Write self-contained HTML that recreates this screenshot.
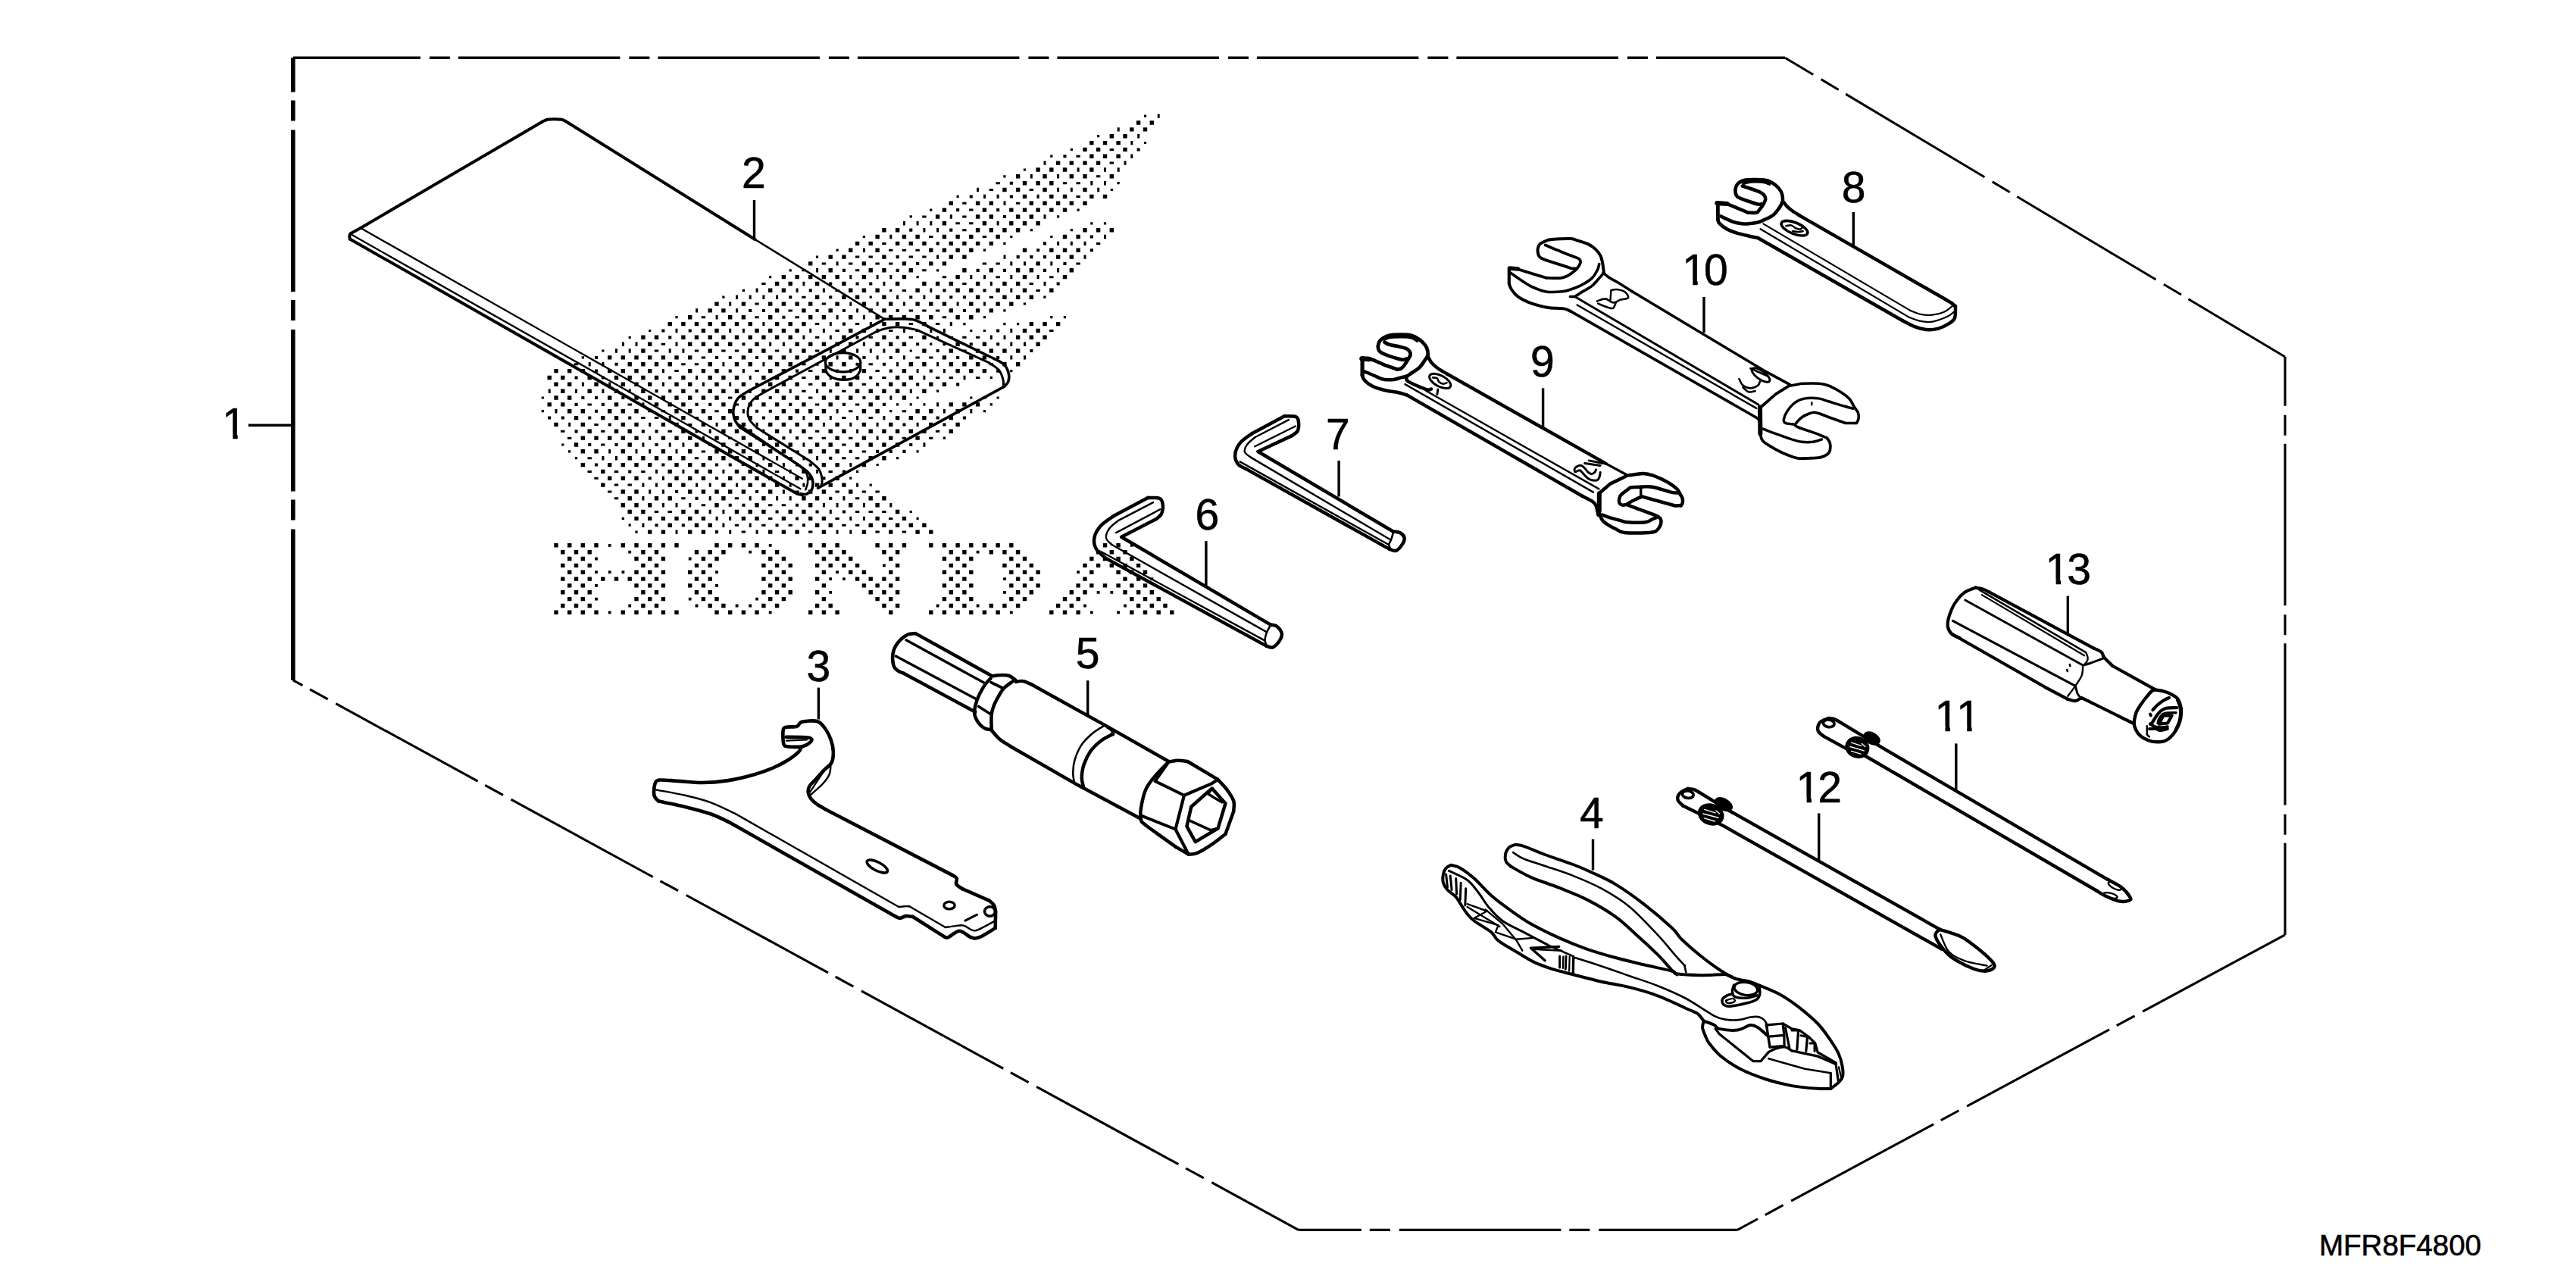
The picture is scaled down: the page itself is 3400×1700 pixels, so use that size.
<!DOCTYPE html>
<html><head><meta charset="utf-8"><title>Tools</title>
<style>
html,body{margin:0;padding:0;background:#fff}
svg{display:block}
.lb{font-family:"Liberation Sans",sans-serif;font-size:57px;fill:#000;stroke:#000;stroke-width:0.6px;font-kerning:none}
.wmt{font-family:"Liberation Serif",serif;font-weight:bold}
</style></head><body>
<svg width="3400" height="1700" viewBox="0 0 3400 1700">
<rect width="3400" height="1700" fill="#fff"/>
<path d="M1499.9 159.3h5.4v5.4h-5.4zM1509.9 151.5h3.2v3.2h-3.2zM1517.6 159.3h5.4v5.4h-5.4zM1527.7 150.4h3v5.4h-3zM1448 178.1h3.2v3.2h-3.2zM1464.6 177h5.4v5.4h-5.4zM1474.7 168.2h3v5.4h-3zM1482.3 177h5.4v5.4h-5.4zM1491.1 168.2h5.4v5.4h-5.4zM1501.2 177h3v5.4h-3zM1508.8 168.2h5.4v5.4h-5.4zM1412.7 195.8h3.2v3.2h-3.2zM1429.3 194.7h5.4v5.4h-5.4zM1438.1 185.9h5.4v5.4h-5.4zM1446.9 194.7h5.4v5.4h-5.4zM1455.8 185.9h5.4v5.4h-5.4zM1464.6 195.9h5.4v3h-5.4zM1473.4 185.9h5.4v5.4h-5.4zM1482.3 194.7h5.4v5.4h-5.4zM1492.3 185.9h3v5.4h-3zM1500.6 195.4h4.1v4.1h-4.1zM1509.9 186.9h3.2v3.2h-3.2zM1377.5 212.4h3v5.4h-3zM1386.2 204.6h3.2v3.2h-3.2zM1393.9 212.4h5.4v5.4h-5.4zM1403.4 204.2h4.1v4.1h-4.1zM1411.6 212.4h5.4v5.4h-5.4zM1420.4 204.8h5.4v3h-5.4zM1429.3 212.4h5.4v5.4h-5.4zM1438.1 203.6h5.4v5.4h-5.4zM1446.9 212.4h5.4v5.4h-5.4zM1455.8 203.6h5.4v5.4h-5.4zM1464.6 213.6h5.4v3h-5.4zM1473.4 203.6h5.4v5.4h-5.4zM1483.5 212.4h3v5.4h-3zM1492.3 203.6h3v5.4h-3zM1324.3 231.2h3.2v3.2h-3.2zM1340.9 230.1h5.4v5.4h-5.4zM1350.8 222.4h3.2v3.2h-3.2zM1359.8 230.1h3v5.4h-3zM1367.4 221.3h5.4v5.4h-5.4zM1376.3 230.1h5.4v5.4h-5.4zM1385.1 221.3h5.4v5.4h-5.4zM1395.1 230.1h3v5.4h-3zM1402.8 221.3h5.4v5.4h-5.4zM1411.6 230.1h5.4v5.4h-5.4zM1421.6 221.3h3v5.4h-3zM1429.3 230.1h5.4v5.4h-5.4zM1438.1 221.3h5.4v5.4h-5.4zM1446.9 231.3h5.4v3h-5.4zM1457 221.3h3v5.4h-3zM1464.6 230.1h5.4v5.4h-5.4zM1474.7 221.3h3v5.4h-3zM1289.1 247.8h3v5.4h-3zM1305.6 249.1h5.4v3h-5.4zM1314.4 240.2h5.4v3h-5.4zM1323.2 247.8h5.4v5.4h-5.4zM1332.8 239.7h4.1v4.1h-4.1zM1340.9 247.8h5.4v5.4h-5.4zM1349.8 239h5.4v5.4h-5.4zM1358.6 249.1h5.4v3h-5.4zM1367.4 239h5.4v5.4h-5.4zM1376.3 247.8h5.4v5.4h-5.4zM1385.1 239h5.4v5.4h-5.4zM1395.1 247.8h3v5.4h-3zM1402.8 240.2h5.4v3h-5.4zM1412.8 247.8h3v5.4h-3zM1420.4 240.2h5.4v3h-5.4zM1429.3 247.8h5.4v5.4h-5.4zM1439.3 239h3v5.4h-3zM1448.2 247.8h3v5.4h-3zM1457 239h3v5.4h-3zM1465.7 248.9h3.2v3.2h-3.2zM1474.5 240.1h3.2v3.2h-3.2zM1252.6 265.5h5.4v5.4h-5.4zM1262.5 257.8h3.2v3.2h-3.2zM1270.2 266.8h5.4v3h-5.4zM1279.7 257.4h4.1v4.1h-4.1zM1287.9 265.5h5.4v5.4h-5.4zM1298 256.7h3v5.4h-3zM1305.6 265.5h5.4v5.4h-5.4zM1315.6 256.7h3v5.4h-3zM1324.5 265.5h3v5.4h-3zM1332.8 257.4h4.1v4.1h-4.1zM1340.9 266.8h5.4v3h-5.4zM1349.8 256.7h5.4v5.4h-5.4zM1358.6 265.5h5.4v5.4h-5.4zM1368.6 256.7h3v5.4h-3zM1376.3 265.5h5.4v5.4h-5.4zM1385.1 256.7h5.4v5.4h-5.4zM1393.9 265.5h5.4v5.4h-5.4zM1402.8 256.7h5.4v5.4h-5.4zM1411.6 265.5h5.4v5.4h-5.4zM1420.4 257.9h5.4v3h-5.4zM1429.3 265.5h5.4v5.4h-5.4zM1438.1 256.7h5.4v5.4h-5.4zM1455.8 256.7h5.4v5.4h-5.4zM1200.6 284.3h3.2v3.2h-3.2zM1217.2 284.5h5.4v3h-5.4zM1227.1 275.5h3.2v3.2h-3.2zM1234.9 283.3h5.4v5.4h-5.4zM1243.7 274.4h5.4v5.4h-5.4zM1253.8 283.3h3v5.4h-3zM1262.1 275.1h4.1v4.1h-4.1zM1270.2 284.5h5.4v3h-5.4zM1279.1 275.6h5.4v3h-5.4zM1287.9 283.3h5.4v5.4h-5.4zM1296.7 274.4h5.4v5.4h-5.4zM1305.6 283.3h5.4v5.4h-5.4zM1315.1 275.1h4.1v4.1h-4.1zM1323.9 283.9h4.1v4.1h-4.1zM1332.1 274.4h5.4v5.4h-5.4zM1340.9 283.3h5.4v5.4h-5.4zM1349.8 274.4h5.4v5.4h-5.4zM1358.6 283.3h5.4v5.4h-5.4zM1367.4 274.4h5.4v5.4h-5.4zM1377.5 283.3h3v5.4h-3zM1385.1 274.4h5.4v5.4h-5.4zM1395 284.3h3.2v3.2h-3.2zM1402.8 274.4h5.4v5.4h-5.4zM1421.5 275.5h3.2v3.2h-3.2zM1164.2 301h5.4v5.4h-5.4zM1181.9 301h5.4v5.4h-5.4zM1191.9 292.1h3v5.4h-3zM1200.2 301.6h4.1v4.1h-4.1zM1209.6 292.1h3v5.4h-3zM1218.4 301h3v5.4h-3zM1227.3 292.1h3v5.4h-3zM1236.1 301h3v5.4h-3zM1243.7 292.1h5.4v5.4h-5.4zM1253.2 301.6h4.1v4.1h-4.1zM1261.4 293.3h5.4v3h-5.4zM1270.2 302.2h5.4v3h-5.4zM1279.1 293.3h5.4v3h-5.4zM1287.9 301h5.4v5.4h-5.4zM1296.7 292.1h5.4v5.4h-5.4zM1305.6 301h5.4v5.4h-5.4zM1315.6 292.1h3v5.4h-3zM1323.2 301h5.4v5.4h-5.4zM1332.1 292.1h5.4v5.4h-5.4zM1340.9 301h5.4v5.4h-5.4zM1349.8 292.1h5.4v5.4h-5.4zM1359.7 302h3.2v3.2h-3.2zM1367.4 292.1h5.4v5.4h-5.4zM1412.7 302h3.2v3.2h-3.2zM1429.3 301h5.4v5.4h-5.4zM1439.2 293.2h3.2v3.2h-3.2zM1446.9 301h5.4v5.4h-5.4zM1456.9 293.2h3.2v3.2h-3.2zM1464.6 301h5.4v5.4h-5.4zM1128.9 318.7h5.4v5.4h-5.4zM1138.8 310.9h3.2v3.2h-3.2zM1146.5 318.7h5.4v5.4h-5.4zM1155.4 309.8h5.4v5.4h-5.4zM1164.2 319.9h5.4v3h-5.4zM1174.3 309.8h3v5.4h-3zM1181.9 318.7h5.4v5.4h-5.4zM1190.7 309.8h5.4v5.4h-5.4zM1199.6 318.7h5.4v5.4h-5.4zM1208.4 309.8h5.4v5.4h-5.4zM1217.2 318.7h5.4v5.4h-5.4zM1226.1 311h5.4v3h-5.4zM1235.6 319.3h4.1v4.1h-4.1zM1243.7 309.8h5.4v5.4h-5.4zM1252.6 318.7h5.4v5.4h-5.4zM1261.4 309.8h5.4v5.4h-5.4zM1270.2 318.7h5.4v5.4h-5.4zM1279.1 309.8h5.4v5.4h-5.4zM1287.9 318.7h5.4v5.4h-5.4zM1296.7 311h5.4v3h-5.4zM1305.6 318.7h5.4v5.4h-5.4zM1314.4 309.8h5.4v5.4h-5.4zM1324.3 319.7h3.2v3.2h-3.2zM1333.2 310.9h3.2v3.2h-3.2zM1376.9 319.3h4.1v4.1h-4.1zM1386.2 310.9h3.2v3.2h-3.2zM1395.1 318.7h3v5.4h-3zM1402.8 309.8h5.4v5.4h-5.4zM1412.8 318.7h3v5.4h-3zM1420.4 309.8h5.4v5.4h-5.4zM1430.5 318.7h3v5.4h-3zM1438.8 310.5h4.1v4.1h-4.1zM1446.9 319.9h5.4v3h-5.4zM1457 309.8h3v5.4h-3zM1076.9 337.5h3.2v3.2h-3.2zM1093.5 336.4h5.4v5.4h-5.4zM1103.5 328.6h3.2v3.2h-3.2zM1111.2 336.4h5.4v5.4h-5.4zM1120 327.5h5.4v5.4h-5.4zM1128.9 337.6h5.4v3h-5.4zM1138.9 327.5h3v5.4h-3zM1146.5 337.6h5.4v3h-5.4zM1155.4 327.5h5.4v5.4h-5.4zM1164.2 336.4h5.4v5.4h-5.4zM1173 328.7h5.4v3h-5.4zM1182.6 337.1h4.1v4.1h-4.1zM1190.7 328.7h5.4v3h-5.4zM1199.6 337.6h5.4v3h-5.4zM1208.4 328.7h5.4v3h-5.4zM1217.2 337.6h5.4v3h-5.4zM1226.1 327.5h5.4v5.4h-5.4zM1236.1 336.4h3v5.4h-3zM1243.7 327.5h5.4v5.4h-5.4zM1252.6 336.4h5.4v5.4h-5.4zM1261.4 327.5h5.4v5.4h-5.4zM1270.2 336.4h5.4v5.4h-5.4zM1279.1 327.5h5.4v5.4h-5.4zM1297.8 328.6h3.2v3.2h-3.2zM1324.5 336.4h3v5.4h-3zM1341.6 337.1h4.1v4.1h-4.1zM1349.8 327.5h5.4v5.4h-5.4zM1359.3 337.1h4.1v4.1h-4.1zM1368.1 328.2h4.1v4.1h-4.1zM1376.9 337.1h4.1v4.1h-4.1zM1385.1 327.5h5.4v5.4h-5.4zM1393.9 336.4h5.4v5.4h-5.4zM1402.8 327.5h5.4v5.4h-5.4zM1411.6 336.4h5.4v5.4h-5.4zM1420.4 327.5h5.4v5.4h-5.4zM1430.5 336.4h3v5.4h-3zM1438.8 328.2h4.1v4.1h-4.1zM1041.6 355.2h3.2v3.2h-3.2zM1058.2 355.3h5.4v3h-5.4zM1067 345.2h5.4v5.4h-5.4zM1077.1 354.1h3v5.4h-3zM1084.7 346.4h5.4v3h-5.4zM1093.5 354.1h5.4v5.4h-5.4zM1103.6 345.2h3v5.4h-3zM1111.9 354.8h4.1v4.1h-4.1zM1120 346.4h5.4v3h-5.4zM1128.9 355.3h5.4v3h-5.4zM1137.7 345.2h5.4v5.4h-5.4zM1146.5 354.1h5.4v5.4h-5.4zM1155.4 346.4h5.4v3h-5.4zM1164.2 354.1h5.4v5.4h-5.4zM1173 346.4h5.4v3h-5.4zM1182.6 354.8h4.1v4.1h-4.1zM1190.7 345.2h5.4v5.4h-5.4zM1199.6 354.1h5.4v5.4h-5.4zM1209.1 345.9h4.1v4.1h-4.1zM1217.2 355.3h5.4v3h-5.4zM1226.1 345.2h5.4v5.4h-5.4zM1236 355.2h3.2v3.2h-3.2zM1243.7 345.2h5.4v5.4h-5.4zM1270.2 354.1h5.4v5.4h-5.4zM1288.6 354.8h4.1v4.1h-4.1zM1296.7 346.4h5.4v3h-5.4zM1305.6 354.1h5.4v5.4h-5.4zM1314.4 346.4h5.4v3h-5.4zM1323.9 354.8h4.1v4.1h-4.1zM1333.3 345.2h3v5.4h-3zM1340.9 354.1h5.4v5.4h-5.4zM1351 345.2h3v5.4h-3zM1358.6 354.1h5.4v5.4h-5.4zM1367.4 345.2h5.4v5.4h-5.4zM1376.9 354.8h4.1v4.1h-4.1zM1386.3 345.2h3v5.4h-3zM1395.1 354.1h3v5.4h-3zM1403.4 345.9h4.1v4.1h-4.1zM1411.6 354.1h5.4v5.4h-5.4zM1420.4 346.4h5.4v3h-5.4zM1005.2 373h5.4v3h-5.4zM1015.1 364h3.2v3.2h-3.2zM1022.9 371.8h5.4v5.4h-5.4zM1031.7 362.9h5.4v5.4h-5.4zM1040.5 371.8h5.4v5.4h-5.4zM1049.4 362.9h5.4v5.4h-5.4zM1059.4 371.8h3v5.4h-3zM1067 362.9h5.4v5.4h-5.4zM1075.9 371.8h5.4v5.4h-5.4zM1084.7 362.9h5.4v5.4h-5.4zM1094.2 372.5h4.1v4.1h-4.1zM1102.4 362.9h5.4v5.4h-5.4zM1111.2 371.8h5.4v5.4h-5.4zM1121.3 362.9h3v5.4h-3zM1129.5 372.5h4.1v4.1h-4.1zM1137.7 362.9h5.4v5.4h-5.4zM1147.2 372.5h4.1v4.1h-4.1zM1156.6 362.9h3v5.4h-3zM1165.4 371.8h3v5.4h-3zM1174.3 362.9h3v5.4h-3zM1181.9 371.8h5.4v5.4h-5.4zM1190.7 362.9h5.4v5.4h-5.4zM1209.5 364h3.2v3.2h-3.2zM1217.2 371.8h5.4v5.4h-5.4zM1234.9 371.8h5.4v5.4h-5.4zM1243.7 364.2h5.4v3h-5.4zM1252.6 371.8h5.4v5.4h-5.4zM1261.4 362.9h5.4v5.4h-5.4zM1270.2 373h5.4v3h-5.4zM1280.3 362.9h3v5.4h-3zM1287.9 371.8h5.4v5.4h-5.4zM1298 362.9h3v5.4h-3zM1306.8 371.8h3v5.4h-3zM1314.4 364.2h5.4v3h-5.4zM1323.2 371.8h5.4v5.4h-5.4zM1333.3 362.9h3v5.4h-3zM1340.9 371.8h5.4v5.4h-5.4zM1349.8 362.9h5.4v5.4h-5.4zM1358.6 373h5.4v3h-5.4zM1368.6 362.9h3v5.4h-3zM1377.5 371.8h3v5.4h-3zM1385.1 364.2h5.4v3h-5.4zM1394.6 372.5h4.1v4.1h-4.1zM1402.8 362.9h5.4v5.4h-5.4zM953.3 390.6h3.2v3.2h-3.2zM971.1 389.5h3v5.4h-3zM979.8 381.7h3.2v3.2h-3.2zM988.7 389.5h3v5.4h-3zM997.6 380.6h3v5.4h-3zM1006.4 389.5h3v5.4h-3zM1014 380.6h5.4v5.4h-5.4zM1024.1 389.5h3v5.4h-3zM1031.7 380.6h5.4v5.4h-5.4zM1041.2 390.2h4.1v4.1h-4.1zM1050.6 380.6h3v5.4h-3zM1058.2 390.7h5.4v3h-5.4zM1067.7 381.3h4.1v4.1h-4.1zM1075.9 389.5h5.4v5.4h-5.4zM1085.9 380.6h3v5.4h-3zM1094.2 390.2h4.1v4.1h-4.1zM1102.4 381.9h5.4v3h-5.4zM1111.2 389.5h5.4v5.4h-5.4zM1120 380.6h5.4v5.4h-5.4zM1128.9 389.5h5.4v5.4h-5.4zM1137.7 380.6h5.4v5.4h-5.4zM1147.6 390.6h3.2v3.2h-3.2zM1155.4 380.6h5.4v5.4h-5.4zM1164.2 389.5h5.4v5.4h-5.4zM1174.1 381.7h3.2v3.2h-3.2zM1183.1 389.5h3v5.4h-3zM1190.7 381.9h5.4v3h-5.4zM1200.2 390.2h4.1v4.1h-4.1zM1208.4 380.6h5.4v5.4h-5.4zM1218.4 389.5h3v5.4h-3zM1227.3 380.6h3v5.4h-3zM1234.9 389.5h5.4v5.4h-5.4zM1244.4 381.3h4.1v4.1h-4.1zM1253.2 390.2h4.1v4.1h-4.1zM1261.4 380.6h5.4v5.4h-5.4zM1270.9 390.2h4.1v4.1h-4.1zM1279.1 380.6h5.4v5.4h-5.4zM1287.9 389.5h5.4v5.4h-5.4zM1297.4 381.3h4.1v4.1h-4.1zM1305.6 390.7h5.4v3h-5.4zM1314.4 380.6h5.4v5.4h-5.4zM1323.2 389.5h5.4v5.4h-5.4zM1333.3 380.6h3v5.4h-3zM1340.9 389.5h5.4v5.4h-5.4zM1349.8 380.6h5.4v5.4h-5.4zM1358.6 389.5h5.4v5.4h-5.4zM1367.4 381.9h5.4v3h-5.4zM1377.3 390.6h3.2v3.2h-3.2zM1385.1 380.6h5.4v5.4h-5.4zM918.1 407.2h3v5.4h-3zM934.5 407.2h5.4v5.4h-5.4zM943.3 398.4h5.4v5.4h-5.4zM952.2 407.2h5.4v5.4h-5.4zM962.2 398.4h3v5.4h-3zM971.1 407.2h3v5.4h-3zM978.7 398.4h5.4v5.4h-5.4zM988.2 407.9h4.1v4.1h-4.1zM996.3 399.6h5.4v3h-5.4zM1005.9 407.9h4.1v4.1h-4.1zM1014 398.4h5.4v5.4h-5.4zM1022.9 407.2h5.4v5.4h-5.4zM1031.7 398.4h5.4v5.4h-5.4zM1040.5 408.4h5.4v3h-5.4zM1049.4 398.4h5.4v5.4h-5.4zM1058.2 407.2h5.4v5.4h-5.4zM1067 398.4h5.4v5.4h-5.4zM1076.5 407.9h4.1v4.1h-4.1zM1084.7 399.6h5.4v3h-5.4zM1093.5 407.2h5.4v5.4h-5.4zM1102.4 398.4h5.4v5.4h-5.4zM1111.9 407.9h4.1v4.1h-4.1zM1121.3 398.4h3v5.4h-3zM1130.1 407.2h3v5.4h-3zM1137.7 398.4h5.4v5.4h-5.4zM1146.5 407.2h5.4v5.4h-5.4zM1156.6 398.4h3v5.4h-3zM1164.2 407.2h5.4v5.4h-5.4zM1173 398.4h5.4v5.4h-5.4zM1182.6 407.9h4.1v4.1h-4.1zM1191.9 398.4h3v5.4h-3zM1199.6 408.4h5.4v3h-5.4zM1208.4 398.4h5.4v5.4h-5.4zM1217.2 408.4h5.4v3h-5.4zM1226.1 398.4h5.4v5.4h-5.4zM1234.9 408.4h5.4v3h-5.4zM1243.7 398.4h5.4v5.4h-5.4zM1252.6 407.2h5.4v5.4h-5.4zM1262.6 398.4h3v5.4h-3zM1270.9 407.9h4.1v4.1h-4.1zM1279.1 398.4h5.4v5.4h-5.4zM1287.9 407.2h5.4v5.4h-5.4zM1298 398.4h3v5.4h-3zM1305.6 407.2h5.4v5.4h-5.4zM1314.4 398.4h5.4v5.4h-5.4zM1324.3 408.3h3.2v3.2h-3.2zM1332.1 398.4h5.4v5.4h-5.4zM1350.8 399.4h3.2v3.2h-3.2zM881.5 424.9h5.4v5.4h-5.4zM891.4 417.1h3.2v3.2h-3.2zM899.2 424.9h5.4v5.4h-5.4zM908 416.1h5.4v5.4h-5.4zM916.8 424.9h5.4v5.4h-5.4zM925.7 417.3h5.4v3h-5.4zM934.5 424.9h5.4v5.4h-5.4zM944.6 416.1h3v5.4h-3zM952.2 424.9h5.4v5.4h-5.4zM961 416.1h5.4v5.4h-5.4zM969.8 424.9h5.4v5.4h-5.4zM978.7 416.1h5.4v5.4h-5.4zM987.5 424.9h5.4v5.4h-5.4zM996.3 417.3h5.4v3h-5.4zM1006.4 424.9h3v5.4h-3zM1014 416.1h5.4v5.4h-5.4zM1022.9 424.9h5.4v5.4h-5.4zM1032.4 416.7h4.1v4.1h-4.1zM1040.5 424.9h5.4v5.4h-5.4zM1049.4 417.3h5.4v3h-5.4zM1058.2 424.9h5.4v5.4h-5.4zM1067 416.1h5.4v5.4h-5.4zM1075.9 426.1h5.4v3h-5.4zM1084.7 416.1h5.4v5.4h-5.4zM1094.8 424.9h3v5.4h-3zM1103.6 416.1h3v5.4h-3zM1111.9 425.6h4.1v4.1h-4.1zM1120 416.1h5.4v5.4h-5.4zM1128.9 426.1h5.4v3h-5.4zM1138.9 416.1h3v5.4h-3zM1147.8 424.9h3v5.4h-3zM1155.4 416.1h5.4v5.4h-5.4zM1164.2 424.9h5.4v5.4h-5.4zM1173 416.1h5.4v5.4h-5.4zM1181.9 424.9h5.4v5.4h-5.4zM1190.7 416.1h5.4v5.4h-5.4zM1199.6 426.1h5.4v3h-5.4zM1208.4 416.1h5.4v5.4h-5.4zM1217.2 424.9h5.4v5.4h-5.4zM1226.1 416.1h5.4v5.4h-5.4zM1234.9 426.1h5.4v3h-5.4zM1243.7 417.3h5.4v3h-5.4zM1253.8 424.9h3v5.4h-3zM1261.4 416.1h5.4v5.4h-5.4zM1271.3 426h3.2v3.2h-3.2zM1279.1 416.1h5.4v5.4h-5.4zM1297.8 417.1h3.2v3.2h-3.2zM1324.3 426h3.2v3.2h-3.2zM1342 426h3.2v3.2h-3.2zM1358.6 424.9h5.4v5.4h-5.4zM1376.3 424.9h5.4v5.4h-5.4zM1386.2 417.1h3.2v3.2h-3.2zM1393.9 424.9h5.4v5.4h-5.4zM1403.8 417.1h3.2v3.2h-3.2zM829.6 443.7h3.2v3.2h-3.2zM846.2 442.6h5.4v5.4h-5.4zM856.1 434.9h3.2v3.2h-3.2zM863.8 442.6h5.4v5.4h-5.4zM873.3 434.4h4.1v4.1h-4.1zM882.2 443.3h4.1v4.1h-4.1zM891.5 433.8h3v5.4h-3zM899.2 442.6h5.4v5.4h-5.4zM908.7 434.4h4.1v4.1h-4.1zM916.8 442.6h5.4v5.4h-5.4zM925.7 433.8h5.4v5.4h-5.4zM934.5 442.6h5.4v5.4h-5.4zM943.3 433.8h5.4v5.4h-5.4zM952.2 442.6h5.4v5.4h-5.4zM962.2 433.8h3v5.4h-3zM969.8 442.6h5.4v5.4h-5.4zM979.9 433.8h3v5.4h-3zM987.5 442.6h5.4v5.4h-5.4zM996.3 433.8h5.4v5.4h-5.4zM1005.2 442.6h5.4v5.4h-5.4zM1014 433.8h5.4v5.4h-5.4zM1022.9 442.6h5.4v5.4h-5.4zM1031.7 433.8h5.4v5.4h-5.4zM1040.5 442.6h5.4v5.4h-5.4zM1049.4 433.8h5.4v5.4h-5.4zM1059.4 442.6h3v5.4h-3zM1068.2 433.8h3v5.4h-3zM1075.9 443.8h5.4v3h-5.4zM1085.9 433.8h3v5.4h-3zM1094.8 442.6h3v5.4h-3zM1102.4 435h5.4v3h-5.4zM1111.2 442.6h5.4v5.4h-5.4zM1120 433.8h5.4v5.4h-5.4zM1129.5 443.3h4.1v4.1h-4.1zM1137.7 433.8h5.4v5.4h-5.4zM1146.5 443.8h5.4v3h-5.4zM1156.6 433.8h3v5.4h-3zM1164.2 442.6h5.4v5.4h-5.4zM1173 435h5.4v3h-5.4zM1182.6 443.3h4.1v4.1h-4.1zM1191.9 433.8h3v5.4h-3zM1199.6 443.8h5.4v3h-5.4zM1208.4 435h5.4v3h-5.4zM1217.2 442.6h5.4v5.4h-5.4zM1227.3 433.8h3v5.4h-3zM1236 443.7h3.2v3.2h-3.2zM1244.9 433.8h3v5.4h-3zM1252.6 443.8h5.4v3h-5.4zM1270.2 443.8h5.4v3h-5.4zM1280.2 434.9h3.2v3.2h-3.2zM1287.9 443.8h5.4v3h-5.4zM1297.8 434.9h3.2v3.2h-3.2zM1306.8 442.6h3v5.4h-3zM1315.1 434.4h4.1v4.1h-4.1zM1324.5 442.6h3v5.4h-3zM1333.3 433.8h3v5.4h-3zM1340.9 442.6h5.4v5.4h-5.4zM1349.8 433.8h5.4v5.4h-5.4zM1358.6 442.6h5.4v5.4h-5.4zM1367.4 433.8h5.4v5.4h-5.4zM1376.3 442.6h5.4v5.4h-5.4zM1385.1 435h5.4v3h-5.4zM794.2 461.4h3.2v3.2h-3.2zM812 460.3h3v5.4h-3zM820.9 451.5h3v5.4h-3zM829.7 460.3h3v5.4h-3zM838.5 451.5h3v5.4h-3zM846.2 460.3h5.4v5.4h-5.4zM855 451.5h5.4v5.4h-5.4zM863.8 461.5h5.4v3h-5.4zM872.7 452.7h5.4v3h-5.4zM882.7 460.3h3v5.4h-3zM891.5 451.5h3v5.4h-3zM900.4 460.3h3v5.4h-3zM908 451.5h5.4v5.4h-5.4zM916.8 461.5h5.4v3h-5.4zM925.7 451.5h5.4v5.4h-5.4zM934.5 460.3h5.4v5.4h-5.4zM943.3 451.5h5.4v5.4h-5.4zM952.2 461.5h5.4v3h-5.4zM961 451.5h5.4v5.4h-5.4zM969.8 461.5h5.4v3h-5.4zM979.4 452.2h4.1v4.1h-4.1zM987.5 460.3h5.4v5.4h-5.4zM996.3 451.5h5.4v5.4h-5.4zM1005.2 460.3h5.4v5.4h-5.4zM1015.2 451.5h3v5.4h-3zM1022.9 461.5h5.4v3h-5.4zM1032.9 451.5h3v5.4h-3zM1041.7 460.3h3v5.4h-3zM1049.4 451.5h5.4v5.4h-5.4zM1058.2 460.3h5.4v5.4h-5.4zM1067 451.5h5.4v5.4h-5.4zM1075.9 461.5h5.4v3h-5.4zM1084.7 451.5h5.4v5.4h-5.4zM1094.8 460.3h3v5.4h-3zM1102.4 451.5h5.4v5.4h-5.4zM1111.2 460.3h5.4v5.4h-5.4zM1120 451.5h5.4v5.4h-5.4zM1130.1 460.3h3v5.4h-3zM1138.9 451.5h3v5.4h-3zM1147.8 460.3h3v5.4h-3zM1155.4 451.5h5.4v5.4h-5.4zM1165.4 460.3h3v5.4h-3zM1173 451.5h5.4v5.4h-5.4zM1181.9 460.3h5.4v5.4h-5.4zM1190.7 451.5h5.4v5.4h-5.4zM1200.6 461.4h3.2v3.2h-3.2zM1209.1 452.2h4.1v4.1h-4.1zM1217.2 460.3h5.4v5.4h-5.4zM1227.1 452.6h3.2v3.2h-3.2zM1235.6 461h4.1v4.1h-4.1zM1244.4 452.2h4.1v4.1h-4.1zM1252.6 460.3h5.4v5.4h-5.4zM1261.4 451.5h5.4v5.4h-5.4zM1270.2 461.5h5.4v3h-5.4zM1279.7 452.2h4.1v4.1h-4.1zM1287.9 460.3h5.4v5.4h-5.4zM1296.7 451.5h5.4v5.4h-5.4zM1305.6 460.3h5.4v5.4h-5.4zM1315.1 452.2h4.1v4.1h-4.1zM1323.2 460.3h5.4v5.4h-5.4zM1333.3 451.5h3v5.4h-3zM1340.9 460.3h5.4v5.4h-5.4zM1351 451.5h3v5.4h-3zM1359.3 461h4.1v4.1h-4.1zM1367.4 451.5h5.4v5.4h-5.4zM757.8 479.3h5.4v3h-5.4zM767.7 470.3h3.2v3.2h-3.2zM776.7 478h3v5.4h-3zM785 469.9h4.1v4.1h-4.1zM794.4 478h3v5.4h-3zM802 469.2h5.4v5.4h-5.4zM811.5 478.7h4.1v4.1h-4.1zM819.6 469.2h5.4v5.4h-5.4zM828.5 478h5.4v5.4h-5.4zM837.3 469.2h5.4v5.4h-5.4zM846.2 478h5.4v5.4h-5.4zM855 469.2h5.4v5.4h-5.4zM863.8 478h5.4v5.4h-5.4zM872.7 469.2h5.4v5.4h-5.4zM881.5 478h5.4v5.4h-5.4zM890.3 469.2h5.4v5.4h-5.4zM899.2 479.3h5.4v3h-5.4zM908 469.2h5.4v5.4h-5.4zM916.8 479.3h5.4v3h-5.4zM925.7 470.4h5.4v3h-5.4zM934.5 478h5.4v5.4h-5.4zM944 469.9h4.1v4.1h-4.1zM953.4 478h3v5.4h-3zM961.7 469.9h4.1v4.1h-4.1zM969.8 478h5.4v5.4h-5.4zM978.7 469.2h5.4v5.4h-5.4zM987.5 478h5.4v5.4h-5.4zM997 469.9h4.1v4.1h-4.1zM1006.4 478h3v5.4h-3zM1014 469.2h5.4v5.4h-5.4zM1022.9 478h5.4v5.4h-5.4zM1031.7 469.2h5.4v5.4h-5.4zM1040.5 478h5.4v5.4h-5.4zM1049.4 469.2h5.4v5.4h-5.4zM1058.2 479.3h5.4v3h-5.4zM1067 469.2h5.4v5.4h-5.4zM1076.5 478.7h4.1v4.1h-4.1zM1084.7 469.2h5.4v5.4h-5.4zM1093.5 478h5.4v5.4h-5.4zM1103.6 469.2h3v5.4h-3zM1111.2 478h5.4v5.4h-5.4zM1120 469.2h5.4v5.4h-5.4zM1129.5 478.7h4.1v4.1h-4.1zM1138.4 469.9h4.1v4.1h-4.1zM1146.5 479.3h5.4v3h-5.4zM1156.6 469.2h3v5.4h-3zM1164.9 478.7h4.1v4.1h-4.1zM1173.7 469.9h4.1v4.1h-4.1zM1183.1 478h3v5.4h-3zM1191.9 469.2h3v5.4h-3zM1199.6 478h5.4v5.4h-5.4zM1208.4 470.4h5.4v3h-5.4zM1217.2 478h5.4v5.4h-5.4zM1226.1 470.4h5.4v3h-5.4zM1236.1 478h3v5.4h-3zM1243.7 469.2h5.4v5.4h-5.4zM1252.6 478h5.4v5.4h-5.4zM1262.1 469.9h4.1v4.1h-4.1zM1270.2 478h5.4v5.4h-5.4zM1279.1 469.2h5.4v5.4h-5.4zM1287.9 478h5.4v5.4h-5.4zM1296.7 469.2h5.4v5.4h-5.4zM1305.6 479.3h5.4v3h-5.4zM1315.1 469.9h4.1v4.1h-4.1zM1323.2 478h5.4v5.4h-5.4zM1333.3 469.2h3v5.4h-3zM1340.9 478h5.4v5.4h-5.4zM1351 469.2h3v5.4h-3zM722.5 495.8h5.4v5.4h-5.4zM731.3 486.9h5.4v5.4h-5.4zM740.1 495.8h5.4v5.4h-5.4zM749 486.9h5.4v5.4h-5.4zM758.5 496.4h4.1v4.1h-4.1zM766.6 486.9h5.4v5.4h-5.4zM775.5 495.8h5.4v5.4h-5.4zM785 487.6h4.1v4.1h-4.1zM793.8 496.4h4.1v4.1h-4.1zM802 486.9h5.4v5.4h-5.4zM810.8 495.8h5.4v5.4h-5.4zM819.6 486.9h5.4v5.4h-5.4zM828.5 495.8h5.4v5.4h-5.4zM837.3 486.9h5.4v5.4h-5.4zM846.2 495.8h5.4v5.4h-5.4zM855 486.9h5.4v5.4h-5.4zM863.8 495.8h5.4v5.4h-5.4zM873.9 486.9h3v5.4h-3zM882.2 496.4h4.1v4.1h-4.1zM890.3 488.1h5.4v3h-5.4zM899.2 495.8h5.4v5.4h-5.4zM908 486.9h5.4v5.4h-5.4zM918.1 495.8h3v5.4h-3zM925.7 486.9h5.4v5.4h-5.4zM934.5 495.8h5.4v5.4h-5.4zM943.3 486.9h5.4v5.4h-5.4zM952.2 495.8h5.4v5.4h-5.4zM961.7 487.6h4.1v4.1h-4.1zM969.8 495.8h5.4v5.4h-5.4zM979.9 486.9h3v5.4h-3zM988.7 495.8h3v5.4h-3zM996.3 488.1h5.4v3h-5.4zM1005.2 495.8h5.4v5.4h-5.4zM1014 486.9h5.4v5.4h-5.4zM1022.9 495.8h5.4v5.4h-5.4zM1031.7 486.9h5.4v5.4h-5.4zM1040.5 495.8h5.4v5.4h-5.4zM1050 487.6h4.1v4.1h-4.1zM1058.2 497h5.4v3h-5.4zM1067 488.1h5.4v3h-5.4zM1075.9 495.8h5.4v5.4h-5.4zM1084.7 486.9h5.4v5.4h-5.4zM1094.8 495.8h3v5.4h-3zM1103 487.6h4.1v4.1h-4.1zM1111.2 495.8h5.4v5.4h-5.4zM1121.3 486.9h3v5.4h-3zM1128.9 495.8h5.4v5.4h-5.4zM1137.7 486.9h5.4v5.4h-5.4zM1147.2 496.4h4.1v4.1h-4.1zM1155.4 488.1h5.4v3h-5.4zM1164.2 497h5.4v3h-5.4zM1173.7 487.6h4.1v4.1h-4.1zM1181.9 495.8h5.4v5.4h-5.4zM1190.7 486.9h5.4v5.4h-5.4zM1199.6 495.8h5.4v5.4h-5.4zM1209.6 486.9h3v5.4h-3zM1218.4 495.8h3v5.4h-3zM1226.7 487.6h4.1v4.1h-4.1zM1234.9 497h5.4v3h-5.4zM1244.9 486.9h3v5.4h-3zM1252.6 497h5.4v3h-5.4zM1261.4 486.9h5.4v5.4h-5.4zM1271.5 495.8h3v5.4h-3zM1279.1 486.9h5.4v5.4h-5.4zM1287.9 497h5.4v3h-5.4zM1296.7 486.9h5.4v5.4h-5.4zM1306.7 496.8h3.2v3.2h-3.2zM1315.1 487.6h4.1v4.1h-4.1zM1333.2 488h3.2v3.2h-3.2zM723.7 513.5h3v5.4h-3zM731.3 504.6h5.4v5.4h-5.4zM740.1 513.5h5.4v5.4h-5.4zM749 504.6h5.4v5.4h-5.4zM759 513.5h3v5.4h-3zM767.9 504.6h3v5.4h-3zM775.5 513.5h5.4v5.4h-5.4zM784.3 504.6h5.4v5.4h-5.4zM794.4 513.5h3v5.4h-3zM803.2 504.6h3v5.4h-3zM810.8 513.5h5.4v5.4h-5.4zM819.6 504.6h5.4v5.4h-5.4zM829.7 513.5h3v5.4h-3zM837.3 504.6h5.4v5.4h-5.4zM846.2 513.5h5.4v5.4h-5.4zM855 504.6h5.4v5.4h-5.4zM864.5 514.1h4.1v4.1h-4.1zM873.9 504.6h3v5.4h-3zM882.2 514.1h4.1v4.1h-4.1zM890.3 504.6h5.4v5.4h-5.4zM899.2 513.5h5.4v5.4h-5.4zM908 504.6h5.4v5.4h-5.4zM917.5 514.1h4.1v4.1h-4.1zM926.9 504.6h3v5.4h-3zM934.5 513.5h5.4v5.4h-5.4zM943.3 504.6h5.4v5.4h-5.4zM952.2 513.5h5.4v5.4h-5.4zM962.2 504.6h3v5.4h-3zM969.8 513.5h5.4v5.4h-5.4zM978.7 504.6h5.4v5.4h-5.4zM988.7 513.5h3v5.4h-3zM997 505.3h4.1v4.1h-4.1zM1005.2 513.5h5.4v5.4h-5.4zM1014 504.6h5.4v5.4h-5.4zM1022.9 513.5h5.4v5.4h-5.4zM1031.7 504.6h5.4v5.4h-5.4zM1041.7 513.5h3v5.4h-3zM1049.4 504.6h5.4v5.4h-5.4zM1058.2 514.7h5.4v3h-5.4zM1067 505.8h5.4v3h-5.4zM1077.1 513.5h3v5.4h-3zM1084.7 504.6h5.4v5.4h-5.4zM1094.2 514.1h4.1v4.1h-4.1zM1102.4 504.6h5.4v5.4h-5.4zM1111.2 514.7h5.4v3h-5.4zM1120 504.6h5.4v5.4h-5.4zM1128.9 513.5h5.4v5.4h-5.4zM1137.7 505.8h5.4v3h-5.4zM1146.5 513.5h5.4v5.4h-5.4zM1156.1 505.3h4.1v4.1h-4.1zM1164.2 513.5h5.4v5.4h-5.4zM1173 504.6h5.4v5.4h-5.4zM1181.9 513.5h5.4v5.4h-5.4zM1190.7 504.6h5.4v5.4h-5.4zM1200.8 513.5h3v5.4h-3zM1209.1 505.3h4.1v4.1h-4.1zM1217.2 513.5h5.4v5.4h-5.4zM1226.1 504.6h5.4v5.4h-5.4zM1236 514.5h3.2v3.2h-3.2zM1243.7 504.6h5.4v5.4h-5.4zM1262.1 505.3h4.1v4.1h-4.1zM714.7 523.4h3.2v3.2h-3.2zM722.5 531.2h5.4v5.4h-5.4zM731.3 522.3h5.4v5.4h-5.4zM740.1 531.2h5.4v5.4h-5.4zM749 522.3h5.4v5.4h-5.4zM758.5 531.8h4.1v4.1h-4.1zM767.3 523h4.1v4.1h-4.1zM775.5 532.4h5.4v3h-5.4zM785 523h4.1v4.1h-4.1zM793.8 531.8h4.1v4.1h-4.1zM802 522.3h5.4v5.4h-5.4zM810.8 531.2h5.4v5.4h-5.4zM820.3 523h4.1v4.1h-4.1zM828.5 532.4h5.4v3h-5.4zM837.3 522.3h5.4v5.4h-5.4zM847.4 531.2h3v5.4h-3zM855 522.3h5.4v5.4h-5.4zM863.8 531.2h5.4v5.4h-5.4zM872.7 522.3h5.4v5.4h-5.4zM881.5 531.2h5.4v5.4h-5.4zM890.3 522.3h5.4v5.4h-5.4zM899.2 531.2h5.4v5.4h-5.4zM908 522.3h5.4v5.4h-5.4zM917.5 531.8h4.1v4.1h-4.1zM925.7 522.3h5.4v5.4h-5.4zM935.2 531.8h4.1v4.1h-4.1zM943.3 522.3h5.4v5.4h-5.4zM952.2 531.2h5.4v5.4h-5.4zM961 523.5h5.4v3h-5.4zM969.8 532.4h5.4v3h-5.4zM978.7 522.3h5.4v5.4h-5.4zM987.5 531.2h5.4v5.4h-5.4zM996.3 522.3h5.4v5.4h-5.4zM1005.2 531.2h5.4v5.4h-5.4zM1014.7 523h4.1v4.1h-4.1zM1022.9 531.2h5.4v5.4h-5.4zM1031.7 522.3h5.4v5.4h-5.4zM1041.2 531.8h4.1v4.1h-4.1zM1049.4 522.3h5.4v5.4h-5.4zM1058.2 531.2h5.4v5.4h-5.4zM1067 523.5h5.4v3h-5.4zM1075.9 532.4h5.4v3h-5.4zM1084.7 522.3h5.4v5.4h-5.4zM1093.5 531.2h5.4v5.4h-5.4zM1102.4 522.3h5.4v5.4h-5.4zM1111.9 531.8h4.1v4.1h-4.1zM1120 522.3h5.4v5.4h-5.4zM1128.9 532.4h5.4v3h-5.4zM1138.4 523h4.1v4.1h-4.1zM1146.5 531.2h5.4v5.4h-5.4zM1155.4 522.3h5.4v5.4h-5.4zM1164.9 531.8h4.1v4.1h-4.1zM1174.3 522.3h3v5.4h-3zM1183 532.2h3.2v3.2h-3.2zM1190.7 522.3h5.4v5.4h-5.4zM1200.6 532.2h3.2v3.2h-3.2zM1209.5 523.4h3.2v3.2h-3.2zM1218.3 532.2h3.2v3.2h-3.2zM1236.1 531.2h3v5.4h-3zM1252.6 531.2h5.4v5.4h-5.4zM1270.2 531.2h5.4v5.4h-5.4zM1280.2 523.4h3.2v3.2h-3.2zM1287.9 531.2h5.4v5.4h-5.4zM1296.7 523.5h5.4v3h-5.4zM1306.7 532.2h3.2v3.2h-3.2zM1315.5 523.4h3.2v3.2h-3.2zM714.7 541.1h3.2v3.2h-3.2zM723.1 549.5h4.1v4.1h-4.1zM732.5 540h3v5.4h-3zM740.8 549.5h4.1v4.1h-4.1zM749 540h5.4v5.4h-5.4zM757.8 548.9h5.4v5.4h-5.4zM766.6 540h5.4v5.4h-5.4zM776.2 549.5h4.1v4.1h-4.1zM785 540.7h4.1v4.1h-4.1zM793.1 548.9h5.4v5.4h-5.4zM802 540h5.4v5.4h-5.4zM810.8 548.9h5.4v5.4h-5.4zM819.6 540h5.4v5.4h-5.4zM829.2 549.5h4.1v4.1h-4.1zM837.3 540h5.4v5.4h-5.4zM846.2 550.1h5.4v3h-5.4zM855 541.2h5.4v3h-5.4zM863.8 550.1h5.4v3h-5.4zM872.7 541.2h5.4v3h-5.4zM882.7 548.9h3v5.4h-3zM890.3 540h5.4v5.4h-5.4zM899.2 548.9h5.4v5.4h-5.4zM908 540h5.4v5.4h-5.4zM916.8 550.1h5.4v3h-5.4zM925.7 540h5.4v5.4h-5.4zM934.5 548.9h5.4v5.4h-5.4zM943.3 541.2h5.4v3h-5.4zM952.2 548.9h5.4v5.4h-5.4zM961 540h5.4v5.4h-5.4zM969.8 548.9h5.4v5.4h-5.4zM979.9 540h3v5.4h-3zM987.5 548.9h5.4v5.4h-5.4zM997 540.7h4.1v4.1h-4.1zM1005.9 549.5h4.1v4.1h-4.1zM1014.7 540.7h4.1v4.1h-4.1zM1022.9 548.9h5.4v5.4h-5.4zM1031.7 540h5.4v5.4h-5.4zM1040.5 548.9h5.4v5.4h-5.4zM1049.4 540h5.4v5.4h-5.4zM1059.4 548.9h3v5.4h-3zM1067 540h5.4v5.4h-5.4zM1075.9 548.9h5.4v5.4h-5.4zM1084.7 540h5.4v5.4h-5.4zM1094.8 548.9h3v5.4h-3zM1103.6 540h3v5.4h-3zM1111.2 550.1h5.4v3h-5.4zM1120 541.2h5.4v3h-5.4zM1130.1 548.9h3v5.4h-3zM1137.7 540h5.4v5.4h-5.4zM1146.5 550.1h5.4v3h-5.4zM1155.4 540h5.4v5.4h-5.4zM1165.4 548.9h3v5.4h-3zM1174.1 541.1h3.2v3.2h-3.2zM1181.9 548.9h5.4v5.4h-5.4zM1190.7 541.2h5.4v3h-5.4zM1199.6 548.9h5.4v5.4h-5.4zM1208.4 540h5.4v5.4h-5.4zM1217.2 548.9h5.4v5.4h-5.4zM1226.1 540h5.4v5.4h-5.4zM1235.6 549.5h4.1v4.1h-4.1zM1244.9 540h3v5.4h-3zM1252.6 548.9h5.4v5.4h-5.4zM1261.4 540h5.4v5.4h-5.4zM1270.9 549.5h4.1v4.1h-4.1zM1280.3 540h3v5.4h-3zM1297.8 541.1h3.2v3.2h-3.2zM731.3 557.7h5.4v5.4h-5.4zM740.1 567.8h5.4v3h-5.4zM750.2 557.7h3v5.4h-3zM758.5 567.3h4.1v4.1h-4.1zM766.6 557.7h5.4v5.4h-5.4zM775.5 566.6h5.4v5.4h-5.4zM784.3 558.9h5.4v3h-5.4zM793.1 567.8h5.4v3h-5.4zM802.7 558.4h4.1v4.1h-4.1zM810.8 566.6h5.4v5.4h-5.4zM819.6 557.7h5.4v5.4h-5.4zM828.5 566.6h5.4v5.4h-5.4zM837.3 557.7h5.4v5.4h-5.4zM846.8 567.3h4.1v4.1h-4.1zM856.2 557.7h3v5.4h-3zM864.5 567.3h4.1v4.1h-4.1zM872.7 557.7h5.4v5.4h-5.4zM881.5 567.8h5.4v3h-5.4zM890.3 557.7h5.4v5.4h-5.4zM899.2 566.6h5.4v5.4h-5.4zM908 558.9h5.4v3h-5.4zM917.5 567.3h4.1v4.1h-4.1zM925.7 557.7h5.4v5.4h-5.4zM935.7 566.6h3v5.4h-3zM944.6 557.7h3v5.4h-3zM952.2 566.6h5.4v5.4h-5.4zM961 557.7h5.4v5.4h-5.4zM969.8 566.6h5.4v5.4h-5.4zM978.7 557.7h5.4v5.4h-5.4zM987.5 566.6h5.4v5.4h-5.4zM997.6 557.7h3v5.4h-3zM1006.4 566.6h3v5.4h-3zM1014 557.7h5.4v5.4h-5.4zM1022.9 566.6h5.4v5.4h-5.4zM1031.7 557.7h5.4v5.4h-5.4zM1041.7 566.6h3v5.4h-3zM1049.4 557.7h5.4v5.4h-5.4zM1058.2 566.6h5.4v5.4h-5.4zM1067 557.7h5.4v5.4h-5.4zM1075.9 567.8h5.4v3h-5.4zM1085.9 557.7h3v5.4h-3zM1093.5 566.6h5.4v5.4h-5.4zM1102.4 557.7h5.4v5.4h-5.4zM1111.2 566.6h5.4v5.4h-5.4zM1121.3 557.7h3v5.4h-3zM1130.1 566.6h3v5.4h-3zM1137.7 557.7h5.4v5.4h-5.4zM1146.5 566.6h5.4v5.4h-5.4zM1156.6 557.7h3v5.4h-3zM1164.2 566.6h5.4v5.4h-5.4zM1173 557.7h5.4v5.4h-5.4zM1181.9 566.6h5.4v5.4h-5.4zM1191.4 558.4h4.1v4.1h-4.1zM1199.6 566.6h5.4v5.4h-5.4zM1209.6 557.7h3v5.4h-3zM1217.2 566.6h5.4v5.4h-5.4zM1226.1 557.7h5.4v5.4h-5.4zM1234.9 567.8h5.4v3h-5.4zM1244.4 558.4h4.1v4.1h-4.1zM1252.6 566.6h5.4v5.4h-5.4zM1261.4 557.7h5.4v5.4h-5.4zM741.2 585.4h3.2v3.2h-3.2zM749 576.7h5.4v3h-5.4zM757.8 584.3h5.4v5.4h-5.4zM766.6 575.4h5.4v5.4h-5.4zM776.2 585h4.1v4.1h-4.1zM784.3 575.4h5.4v5.4h-5.4zM793.1 585.5h5.4v3h-5.4zM802 575.4h5.4v5.4h-5.4zM811.5 585h4.1v4.1h-4.1zM819.6 575.4h5.4v5.4h-5.4zM828.5 584.3h5.4v5.4h-5.4zM837.3 575.4h5.4v5.4h-5.4zM847.4 584.3h3v5.4h-3zM856.2 575.4h3v5.4h-3zM864.5 585h4.1v4.1h-4.1zM872.7 575.4h5.4v5.4h-5.4zM882.7 584.3h3v5.4h-3zM890.3 575.4h5.4v5.4h-5.4zM900.4 584.3h3v5.4h-3zM908 575.4h5.4v5.4h-5.4zM916.8 584.3h5.4v5.4h-5.4zM926.9 575.4h3v5.4h-3zM935.2 585h4.1v4.1h-4.1zM943.3 575.4h5.4v5.4h-5.4zM952.2 584.3h5.4v5.4h-5.4zM961 576.7h5.4v3h-5.4zM970.5 585h4.1v4.1h-4.1zM978.7 575.4h5.4v5.4h-5.4zM987.5 584.3h5.4v5.4h-5.4zM997 576.1h4.1v4.1h-4.1zM1005.9 585h4.1v4.1h-4.1zM1014 575.4h5.4v5.4h-5.4zM1022.9 584.3h5.4v5.4h-5.4zM1032.4 576.1h4.1v4.1h-4.1zM1040.5 584.3h5.4v5.4h-5.4zM1050 576.1h4.1v4.1h-4.1zM1059.4 584.3h3v5.4h-3zM1067 576.7h5.4v3h-5.4zM1075.9 584.3h5.4v5.4h-5.4zM1084.7 576.7h5.4v3h-5.4zM1093.5 584.3h5.4v5.4h-5.4zM1102.4 575.4h5.4v5.4h-5.4zM1111.2 585.5h5.4v3h-5.4zM1120 576.7h5.4v3h-5.4zM1128.9 584.3h5.4v5.4h-5.4zM1137.7 575.4h5.4v5.4h-5.4zM1146.5 584.3h5.4v5.4h-5.4zM1156.6 575.4h3v5.4h-3zM1164.2 584.3h5.4v5.4h-5.4zM1173 575.4h5.4v5.4h-5.4zM1181.9 584.3h5.4v5.4h-5.4zM1190.7 576.7h5.4v3h-5.4zM1200.2 585h4.1v4.1h-4.1zM1208.4 575.4h5.4v5.4h-5.4zM1218.4 584.3h3v5.4h-3zM1226.1 576.7h5.4v3h-5.4zM1244.8 576.5h3.2v3.2h-3.2zM750 594.2h3.2v3.2h-3.2zM758.9 603.1h3.2v3.2h-3.2zM766.6 593.1h5.4v5.4h-5.4zM775.5 603.2h5.4v3h-5.4zM784.3 593.1h5.4v5.4h-5.4zM794.4 602h3v5.4h-3zM803.2 593.1h3v5.4h-3zM812 602h3v5.4h-3zM819.6 593.1h5.4v5.4h-5.4zM828.5 602h5.4v5.4h-5.4zM838.5 593.1h3v5.4h-3zM846.2 602h5.4v5.4h-5.4zM856.2 593.1h3v5.4h-3zM863.8 602h5.4v5.4h-5.4zM872.7 593.1h5.4v5.4h-5.4zM881.5 602h5.4v5.4h-5.4zM891.5 593.1h3v5.4h-3zM899.2 602h5.4v5.4h-5.4zM908 593.1h5.4v5.4h-5.4zM916.8 603.2h5.4v3h-5.4zM925.7 594.4h5.4v3h-5.4zM934.5 602h5.4v5.4h-5.4zM943.3 593.1h5.4v5.4h-5.4zM952.2 602h5.4v5.4h-5.4zM961 593.1h5.4v5.4h-5.4zM969.8 602h5.4v5.4h-5.4zM978.7 593.1h5.4v5.4h-5.4zM987.5 602h5.4v5.4h-5.4zM996.3 593.1h5.4v5.4h-5.4zM1006.4 602h3v5.4h-3zM1014 593.1h5.4v5.4h-5.4zM1024.1 602h3v5.4h-3zM1031.7 593.1h5.4v5.4h-5.4zM1040.5 603.2h5.4v3h-5.4zM1049.4 594.4h5.4v3h-5.4zM1059.4 602h3v5.4h-3zM1067 593.1h5.4v5.4h-5.4zM1077.1 602h3v5.4h-3zM1084.7 593.1h5.4v5.4h-5.4zM1094.2 602.7h4.1v4.1h-4.1zM1102.4 593.1h5.4v5.4h-5.4zM1111.2 603.2h5.4v3h-5.4zM1120.7 593.8h4.1v4.1h-4.1zM1128.9 603.2h5.4v3h-5.4zM1137.7 594.4h5.4v3h-5.4zM1146.5 602h5.4v5.4h-5.4zM1156.1 593.8h4.1v4.1h-4.1zM1164.2 602h5.4v5.4h-5.4zM1173.7 593.8h4.1v4.1h-4.1zM1183 603.1h3.2v3.2h-3.2zM1191.4 593.8h4.1v4.1h-4.1zM1209.5 594.2h3.2v3.2h-3.2zM766.6 610.9h5.4v5.4h-5.4zM775.5 620.9h5.4v3h-5.4zM785 611.5h4.1v4.1h-4.1zM793.1 619.7h5.4v5.4h-5.4zM802 610.9h5.4v5.4h-5.4zM810.8 620.9h5.4v3h-5.4zM819.6 610.9h5.4v5.4h-5.4zM829.2 620.4h4.1v4.1h-4.1zM837.3 610.9h5.4v5.4h-5.4zM846.2 620.9h5.4v3h-5.4zM855 610.9h5.4v5.4h-5.4zM865 619.7h3v5.4h-3zM873.3 611.5h4.1v4.1h-4.1zM881.5 619.7h5.4v5.4h-5.4zM890.3 610.9h5.4v5.4h-5.4zM900.4 619.7h3v5.4h-3zM908 610.9h5.4v5.4h-5.4zM916.8 619.7h5.4v5.4h-5.4zM925.7 610.9h5.4v5.4h-5.4zM934.5 619.7h5.4v5.4h-5.4zM944 611.5h4.1v4.1h-4.1zM953.4 619.7h3v5.4h-3zM961.7 611.5h4.1v4.1h-4.1zM969.8 619.7h5.4v5.4h-5.4zM978.7 612.1h5.4v3h-5.4zM987.5 619.7h5.4v5.4h-5.4zM997.6 610.9h3v5.4h-3zM1006.4 619.7h3v5.4h-3zM1014 610.9h5.4v5.4h-5.4zM1022.9 620.9h5.4v3h-5.4zM1032.9 610.9h3v5.4h-3zM1041.7 619.7h3v5.4h-3zM1050 611.5h4.1v4.1h-4.1zM1058.2 619.7h5.4v5.4h-5.4zM1067.7 611.5h4.1v4.1h-4.1zM1077.1 619.7h3v5.4h-3zM1084.7 610.9h5.4v5.4h-5.4zM1093.5 620.9h5.4v3h-5.4zM1102.4 610.9h5.4v5.4h-5.4zM1111.9 620.4h4.1v4.1h-4.1zM1121.3 610.9h3v5.4h-3zM1130 620.8h3.2v3.2h-3.2zM1137.7 610.9h5.4v5.4h-5.4zM1156.5 611.9h3.2v3.2h-3.2zM784.3 629.8h5.4v3h-5.4zM793.1 637.4h5.4v5.4h-5.4zM802 628.6h5.4v5.4h-5.4zM810.8 638.6h5.4v3h-5.4zM819.6 628.6h5.4v5.4h-5.4zM828.5 638.6h5.4v3h-5.4zM837.3 628.6h5.4v5.4h-5.4zM847.4 637.4h3v5.4h-3zM855.7 629.2h4.1v4.1h-4.1zM865 637.4h3v5.4h-3zM873.9 628.6h3v5.4h-3zM881.5 637.4h5.4v5.4h-5.4zM890.3 628.6h5.4v5.4h-5.4zM899.2 637.4h5.4v5.4h-5.4zM908 628.6h5.4v5.4h-5.4zM918.1 637.4h3v5.4h-3zM925.7 628.6h5.4v5.4h-5.4zM935.7 637.4h3v5.4h-3zM944 629.2h4.1v4.1h-4.1zM952.2 637.4h5.4v5.4h-5.4zM961 628.6h5.4v5.4h-5.4zM971.1 637.4h3v5.4h-3zM978.7 628.6h5.4v5.4h-5.4zM987.5 637.4h5.4v5.4h-5.4zM996.3 628.6h5.4v5.4h-5.4zM1005.2 637.4h5.4v5.4h-5.4zM1014 628.6h5.4v5.4h-5.4zM1022.9 637.4h5.4v5.4h-5.4zM1032.9 628.6h3v5.4h-3zM1041.7 637.4h3v5.4h-3zM1049.4 628.6h5.4v5.4h-5.4zM1059.4 637.4h3v5.4h-3zM1067 628.6h5.4v5.4h-5.4zM1075.9 637.4h5.4v5.4h-5.4zM1085.4 629.2h4.1v4.1h-4.1zM1093.5 637.4h5.4v5.4h-5.4zM1102.4 628.6h5.4v5.4h-5.4zM1111.2 637.4h5.4v5.4h-5.4zM1121.1 629.6h3.2v3.2h-3.2zM1130.1 637.4h3v5.4h-3zM1147.6 638.5h3.2v3.2h-3.2zM802 647.5h5.4v3h-5.4zM810.8 656.3h5.4v3h-5.4zM819.6 646.3h5.4v5.4h-5.4zM828.5 655.1h5.4v5.4h-5.4zM837.3 646.3h5.4v5.4h-5.4zM847.4 655.1h3v5.4h-3zM856.2 646.3h3v5.4h-3zM863.8 655.1h5.4v5.4h-5.4zM873.9 646.3h3v5.4h-3zM881.5 655.1h5.4v5.4h-5.4zM891 646.9h4.1v4.1h-4.1zM899.2 656.3h5.4v3h-5.4zM908 646.3h5.4v5.4h-5.4zM917.5 655.8h4.1v4.1h-4.1zM925.7 646.3h5.4v5.4h-5.4zM935.7 655.1h3v5.4h-3zM943.3 646.3h5.4v5.4h-5.4zM952.2 655.1h5.4v5.4h-5.4zM961 646.3h5.4v5.4h-5.4zM969.8 656.3h5.4v3h-5.4zM978.7 646.3h5.4v5.4h-5.4zM988.7 655.1h3v5.4h-3zM997 646.9h4.1v4.1h-4.1zM1005.2 655.1h5.4v5.4h-5.4zM1014 646.3h5.4v5.4h-5.4zM1024.1 655.1h3v5.4h-3zM1032.9 646.3h3v5.4h-3zM1041.7 655.1h3v5.4h-3zM1049.4 647.5h5.4v3h-5.4zM1058.2 655.1h5.4v5.4h-5.4zM1067 646.3h5.4v5.4h-5.4zM1075.9 655.1h5.4v5.4h-5.4zM1084.7 646.3h5.4v5.4h-5.4zM1094.2 655.8h4.1v4.1h-4.1zM1102.4 647.5h5.4v3h-5.4zM1112.4 655.1h3v5.4h-3zM1120 646.3h5.4v5.4h-5.4zM1128.9 656.3h5.4v3h-5.4zM1137.7 647.5h5.4v3h-5.4zM1146.5 655.1h5.4v5.4h-5.4zM1155.4 647.5h5.4v3h-5.4zM1164.2 655.1h5.4v5.4h-5.4zM819.6 664h5.4v5.4h-5.4zM828.5 672.8h5.4v5.4h-5.4zM837.3 664h5.4v5.4h-5.4zM846.2 672.8h5.4v5.4h-5.4zM855 664h5.4v5.4h-5.4zM863.8 674h5.4v3h-5.4zM873.9 664h3v5.4h-3zM881.5 674h5.4v3h-5.4zM891.5 664h3v5.4h-3zM899.2 672.8h5.4v5.4h-5.4zM909.2 664h3v5.4h-3zM916.8 672.8h5.4v5.4h-5.4zM925.7 665.2h5.4v3h-5.4zM935.7 672.8h3v5.4h-3zM943.3 664h5.4v5.4h-5.4zM953.4 672.8h3v5.4h-3zM961.7 664.7h4.1v4.1h-4.1zM969.8 672.8h5.4v5.4h-5.4zM979.4 664.7h4.1v4.1h-4.1zM987.5 672.8h5.4v5.4h-5.4zM996.3 664h5.4v5.4h-5.4zM1005.2 672.8h5.4v5.4h-5.4zM1014 665.2h5.4v3h-5.4zM1023.5 673.5h4.1v4.1h-4.1zM1031.7 665.2h5.4v3h-5.4zM1040.5 672.8h5.4v5.4h-5.4zM1050 664.7h4.1v4.1h-4.1zM1058.2 672.8h5.4v5.4h-5.4zM1067 664h5.4v5.4h-5.4zM1076.5 673.5h4.1v4.1h-4.1zM1085.9 664h3v5.4h-3zM1094.8 672.8h3v5.4h-3zM1103.6 664h3v5.4h-3zM1111.9 673.5h4.1v4.1h-4.1zM1120 664h5.4v5.4h-5.4zM1128.9 674h5.4v3h-5.4zM1138.9 664h3v5.4h-3zM1146.5 674h5.4v3h-5.4zM1155.4 664h5.4v5.4h-5.4zM1164.2 674h5.4v3h-5.4zM1174.3 664h3v5.4h-3zM1181.9 672.8h5.4v5.4h-5.4zM1200.6 673.9h3.2v3.2h-3.2zM820.7 682.8h3.2v3.2h-3.2zM829.6 691.6h3.2v3.2h-3.2zM837.3 681.7h5.4v5.4h-5.4zM847.4 690.5h3v5.4h-3zM855 681.7h5.4v5.4h-5.4zM864.5 691.2h4.1v4.1h-4.1zM872.7 681.7h5.4v5.4h-5.4zM881.5 690.5h5.4v5.4h-5.4zM890.3 681.7h5.4v5.4h-5.4zM899.8 691.2h4.1v4.1h-4.1zM908 681.7h5.4v5.4h-5.4zM916.8 690.5h5.4v5.4h-5.4zM925.7 681.7h5.4v5.4h-5.4zM934.5 690.5h5.4v5.4h-5.4zM944.6 681.7h3v5.4h-3zM953.4 690.5h3v5.4h-3zM962.2 681.7h3v5.4h-3zM969.8 691.8h5.4v3h-5.4zM978.7 681.7h5.4v5.4h-5.4zM988.7 690.5h3v5.4h-3zM996.3 681.7h5.4v5.4h-5.4zM1005.2 691.8h5.4v3h-5.4zM1014 682.9h5.4v3h-5.4zM1023.5 691.2h4.1v4.1h-4.1zM1031.7 681.7h5.4v5.4h-5.4zM1040.5 691.8h5.4v3h-5.4zM1050 682.4h4.1v4.1h-4.1zM1058.9 691.2h4.1v4.1h-4.1zM1067 681.7h5.4v5.4h-5.4zM1075.9 690.5h5.4v5.4h-5.4zM1084.7 681.7h5.4v5.4h-5.4zM1093.5 690.5h5.4v5.4h-5.4zM1102.4 682.9h5.4v3h-5.4zM1111.2 691.8h5.4v3h-5.4zM1121.3 681.7h3v5.4h-3zM1128.9 691.8h5.4v3h-5.4zM1138.9 681.7h3v5.4h-3zM1146.5 690.5h5.4v5.4h-5.4zM1155.4 681.7h5.4v5.4h-5.4zM1164.2 690.5h5.4v5.4h-5.4zM1173 682.9h5.4v3h-5.4zM1181.9 690.5h5.4v5.4h-5.4zM1190.7 681.7h5.4v5.4h-5.4zM1199.6 690.5h5.4v5.4h-5.4zM1209.5 682.8h3.2v3.2h-3.2zM1217.2 690.5h5.4v5.4h-5.4zM838.4 700.5h3.2v3.2h-3.2zM855 699.4h5.4v5.4h-5.4zM872.7 699.4h5.4v5.4h-5.4zM891.5 699.4h3v5.4h-3zM908 699.4h5.4v5.4h-5.4zM925.7 699.4h5.4v5.4h-5.4zM944 700.1h4.1v4.1h-4.1zM962.2 699.4h3v5.4h-3zM978.7 700.6h5.4v3h-5.4zM997.6 699.4h3v5.4h-3zM1014 699.4h5.4v5.4h-5.4zM1031.7 699.4h5.4v5.4h-5.4zM1049.4 699.4h5.4v5.4h-5.4zM1067 700.6h5.4v3h-5.4zM1084.7 699.4h5.4v5.4h-5.4zM1103.6 699.4h3v5.4h-3zM1121.3 699.4h3v5.4h-3zM1137.7 699.4h5.4v5.4h-5.4zM1155.4 700.6h5.4v3h-5.4zM1173 699.4h5.4v5.4h-5.4zM1190.7 700.6h5.4v3h-5.4zM1208.4 699.4h5.4v5.4h-5.4zM1226.1 699.4h5.4v5.4h-5.4z" fill="#000"/>
<defs><mask id="hm" maskUnits="userSpaceOnUse" x="650" y="680" width="1000" height="170"><path d="M731.3 717.1h5.4v5.4h-5.4zM740.1 726h5.4v5.4h-5.4zM749 717.1h5.4v5.4h-5.4zM757.8 726h5.4v5.4h-5.4zM766.6 717.1h5.4v5.4h-5.4zM775.5 726h5.4v5.4h-5.4zM784.3 717.1h5.4v5.4h-5.4zM802.8 717.9h3.8v3.8h-3.8zM819.6 717.1h5.4v5.4h-5.4zM829.3 726.8h3.8v3.8h-3.8zM837.3 717.1h5.4v5.4h-5.4zM846.2 726h5.4v5.4h-5.4zM855 717.1h5.4v5.4h-5.4zM863.8 726h5.4v5.4h-5.4zM872.7 717.1h5.4v5.4h-5.4zM890.3 717.1h5.4v5.4h-5.4zM916.8 726h5.4v5.4h-5.4zM934.5 726h5.4v5.4h-5.4zM943.3 717.1h5.4v5.4h-5.4zM952.2 726h5.4v5.4h-5.4zM961 717.1h5.4v5.4h-5.4zM978.7 717.1h5.4v5.4h-5.4zM988.3 726.8h3.8v3.8h-3.8zM996.3 717.1h5.4v5.4h-5.4zM1005.2 726h5.4v5.4h-5.4zM1014.8 717.9h3.8v3.8h-3.8zM1022.9 726h5.4v5.4h-5.4zM1067 717.1h5.4v5.4h-5.4zM1075.9 726h5.4v5.4h-5.4zM1084.7 717.1h5.4v5.4h-5.4zM1093.5 726h5.4v5.4h-5.4zM1102.4 717.1h5.4v5.4h-5.4zM1111.2 726h5.4v5.4h-5.4zM1155.4 717.1h5.4v5.4h-5.4zM1164.2 726h5.4v5.4h-5.4zM1173 717.1h5.4v5.4h-5.4zM1181.9 726h5.4v5.4h-5.4zM1190.7 717.1h5.4v5.4h-5.4zM1226.1 717.1h5.4v5.4h-5.4zM1243.7 717.1h5.4v5.4h-5.4zM1252.6 726h5.4v5.4h-5.4zM1261.4 717.1h5.4v5.4h-5.4zM1270.2 726h5.4v5.4h-5.4zM1279.1 717.1h5.4v5.4h-5.4zM1288.7 726.8h3.8v3.8h-3.8zM1296.7 717.1h5.4v5.4h-5.4zM1305.6 726h5.4v5.4h-5.4zM1314.4 717.1h5.4v5.4h-5.4zM1323.2 726h5.4v5.4h-5.4zM1332.1 717.1h5.4v5.4h-5.4zM1340.9 726h5.4v5.4h-5.4zM1446.9 726h5.4v5.4h-5.4zM1455.8 717.1h5.4v5.4h-5.4zM1464.6 726h5.4v5.4h-5.4zM1473.4 717.1h5.4v5.4h-5.4zM1482.3 726h5.4v5.4h-5.4zM1491.9 717.9h3.8v3.8h-3.8zM740.1 743.7h5.4v5.4h-5.4zM749 734.8h5.4v5.4h-5.4zM757.8 743.7h5.4v5.4h-5.4zM766.6 734.8h5.4v5.4h-5.4zM775.5 743.7h5.4v5.4h-5.4zM785.1 735.6h3.8v3.8h-3.8zM837.3 734.8h5.4v5.4h-5.4zM846.2 743.7h5.4v5.4h-5.4zM855 734.8h5.4v5.4h-5.4zM863.8 743.7h5.4v5.4h-5.4zM872.7 734.8h5.4v5.4h-5.4zM908.8 735.6h3.8v3.8h-3.8zM916.8 743.7h5.4v5.4h-5.4zM925.7 734.8h5.4v5.4h-5.4zM934.5 743.7h5.4v5.4h-5.4zM943.3 734.8h5.4v5.4h-5.4zM1005.2 743.7h5.4v5.4h-5.4zM1014 734.8h5.4v5.4h-5.4zM1022.9 743.7h5.4v5.4h-5.4zM1031.7 734.8h5.4v5.4h-5.4zM1040.5 743.7h5.4v5.4h-5.4zM1075.9 743.7h5.4v5.4h-5.4zM1084.7 734.8h5.4v5.4h-5.4zM1093.5 743.7h5.4v5.4h-5.4zM1102.4 734.8h5.4v5.4h-5.4zM1111.2 743.7h5.4v5.4h-5.4zM1120 734.8h5.4v5.4h-5.4zM1128.9 743.7h5.4v5.4h-5.4zM1165 744.5h3.8v3.8h-3.8zM1173 734.8h5.4v5.4h-5.4zM1181.9 743.7h5.4v5.4h-5.4zM1243.7 734.8h5.4v5.4h-5.4zM1252.6 743.7h5.4v5.4h-5.4zM1261.4 734.8h5.4v5.4h-5.4zM1270.2 743.7h5.4v5.4h-5.4zM1279.1 734.8h5.4v5.4h-5.4zM1323.2 743.7h5.4v5.4h-5.4zM1332.1 734.8h5.4v5.4h-5.4zM1340.9 743.7h5.4v5.4h-5.4zM1349.8 734.8h5.4v5.4h-5.4zM1358.6 743.7h5.4v5.4h-5.4zM1429.3 743.7h5.4v5.4h-5.4zM1438.1 734.8h5.4v5.4h-5.4zM1446.9 743.7h5.4v5.4h-5.4zM1455.8 734.8h5.4v5.4h-5.4zM1464.6 743.7h5.4v5.4h-5.4zM1473.4 734.8h5.4v5.4h-5.4zM1482.3 743.7h5.4v5.4h-5.4zM1491.1 734.8h5.4v5.4h-5.4zM1499.9 743.7h5.4v5.4h-5.4zM740.1 761.4h5.4v5.4h-5.4zM749 752.5h5.4v5.4h-5.4zM757.8 761.4h5.4v5.4h-5.4zM766.6 752.5h5.4v5.4h-5.4zM775.5 761.4h5.4v5.4h-5.4zM785.1 753.3h3.8v3.8h-3.8zM793.1 761.4h5.4v5.4h-5.4zM802.8 753.3h3.8v3.8h-3.8zM810.8 761.4h5.4v5.4h-5.4zM820.5 753.3h3.8v3.8h-3.8zM828.5 761.4h5.4v5.4h-5.4zM837.3 752.5h5.4v5.4h-5.4zM846.2 761.4h5.4v5.4h-5.4zM855 752.5h5.4v5.4h-5.4zM863.8 761.4h5.4v5.4h-5.4zM872.7 752.5h5.4v5.4h-5.4zM908 752.5h5.4v5.4h-5.4zM916.8 761.4h5.4v5.4h-5.4zM925.7 752.5h5.4v5.4h-5.4zM934.5 761.4h5.4v5.4h-5.4zM944.1 753.3h3.8v3.8h-3.8zM1005.2 761.4h5.4v5.4h-5.4zM1014 752.5h5.4v5.4h-5.4zM1022.9 761.4h5.4v5.4h-5.4zM1031.7 752.5h5.4v5.4h-5.4zM1040.5 761.4h5.4v5.4h-5.4zM1075.9 761.4h5.4v5.4h-5.4zM1084.7 752.5h5.4v5.4h-5.4zM1094.3 762.2h3.8v3.8h-3.8zM1103.2 753.3h3.8v3.8h-3.8zM1112 762.2h3.8v3.8h-3.8zM1120 752.5h5.4v5.4h-5.4zM1128.9 761.4h5.4v5.4h-5.4zM1137.7 752.5h5.4v5.4h-5.4zM1146.5 761.4h5.4v5.4h-5.4zM1164.2 761.4h5.4v5.4h-5.4zM1173 752.5h5.4v5.4h-5.4zM1181.9 761.4h5.4v5.4h-5.4zM1243.7 752.5h5.4v5.4h-5.4zM1252.6 761.4h5.4v5.4h-5.4zM1261.4 752.5h5.4v5.4h-5.4zM1270.2 761.4h5.4v5.4h-5.4zM1279.1 752.5h5.4v5.4h-5.4zM1324.1 762.2h3.8v3.8h-3.8zM1332.1 752.5h5.4v5.4h-5.4zM1340.9 761.4h5.4v5.4h-5.4zM1349.8 752.5h5.4v5.4h-5.4zM1358.6 761.4h5.4v5.4h-5.4zM1367.4 752.5h5.4v5.4h-5.4zM1421.2 753.3h3.8v3.8h-3.8zM1429.3 761.4h5.4v5.4h-5.4zM1438.1 752.5h5.4v5.4h-5.4zM1473.4 752.5h5.4v5.4h-5.4zM1482.3 761.4h5.4v5.4h-5.4zM1491.1 752.5h5.4v5.4h-5.4zM1499.9 761.4h5.4v5.4h-5.4zM1508.8 752.5h5.4v5.4h-5.4zM1518.4 762.2h3.8v3.8h-3.8zM740.1 779.1h5.4v5.4h-5.4zM749 770.2h5.4v5.4h-5.4zM757.8 779.1h5.4v5.4h-5.4zM766.6 770.2h5.4v5.4h-5.4zM775.5 779.1h5.4v5.4h-5.4zM785.1 771h3.8v3.8h-3.8zM837.3 770.2h5.4v5.4h-5.4zM846.2 779.1h5.4v5.4h-5.4zM855 770.2h5.4v5.4h-5.4zM863.8 779.1h5.4v5.4h-5.4zM872.7 770.2h5.4v5.4h-5.4zM908 770.2h5.4v5.4h-5.4zM916.8 779.1h5.4v5.4h-5.4zM925.7 770.2h5.4v5.4h-5.4zM934.5 779.1h5.4v5.4h-5.4zM944.1 771h3.8v3.8h-3.8zM1005.2 779.1h5.4v5.4h-5.4zM1014 770.2h5.4v5.4h-5.4zM1022.9 779.1h5.4v5.4h-5.4zM1031.7 770.2h5.4v5.4h-5.4zM1040.5 779.1h5.4v5.4h-5.4zM1075.9 779.1h5.4v5.4h-5.4zM1084.7 770.2h5.4v5.4h-5.4zM1094.3 779.9h3.8v3.8h-3.8zM1137.7 770.2h5.4v5.4h-5.4zM1146.5 779.1h5.4v5.4h-5.4zM1155.4 770.2h5.4v5.4h-5.4zM1164.2 779.1h5.4v5.4h-5.4zM1173 770.2h5.4v5.4h-5.4zM1181.9 779.1h5.4v5.4h-5.4zM1243.7 770.2h5.4v5.4h-5.4zM1252.6 779.1h5.4v5.4h-5.4zM1261.4 770.2h5.4v5.4h-5.4zM1270.2 779.1h5.4v5.4h-5.4zM1279.1 770.2h5.4v5.4h-5.4zM1324.1 779.9h3.8v3.8h-3.8zM1332.1 770.2h5.4v5.4h-5.4zM1340.9 779.1h5.4v5.4h-5.4zM1349.8 770.2h5.4v5.4h-5.4zM1358.6 779.1h5.4v5.4h-5.4zM1367.4 770.2h5.4v5.4h-5.4zM1411.6 779.1h5.4v5.4h-5.4zM1420.4 770.2h5.4v5.4h-5.4zM1429.3 779.1h5.4v5.4h-5.4zM1438.1 770.2h5.4v5.4h-5.4zM1447.7 779.9h3.8v3.8h-3.8zM1455.8 770.2h5.4v5.4h-5.4zM1465.4 779.9h3.8v3.8h-3.8zM1473.4 770.2h5.4v5.4h-5.4zM1482.3 779.1h5.4v5.4h-5.4zM1491.1 770.2h5.4v5.4h-5.4zM1499.9 779.1h5.4v5.4h-5.4zM1508.8 770.2h5.4v5.4h-5.4zM1517.6 779.1h5.4v5.4h-5.4zM740.1 796.8h5.4v5.4h-5.4zM749 787.9h5.4v5.4h-5.4zM757.8 796.8h5.4v5.4h-5.4zM766.6 787.9h5.4v5.4h-5.4zM775.5 796.8h5.4v5.4h-5.4zM785.1 788.7h3.8v3.8h-3.8zM829.3 797.6h3.8v3.8h-3.8zM837.3 787.9h5.4v5.4h-5.4zM846.2 796.8h5.4v5.4h-5.4zM855 787.9h5.4v5.4h-5.4zM863.8 796.8h5.4v5.4h-5.4zM872.7 787.9h5.4v5.4h-5.4zM908.8 788.7h3.8v3.8h-3.8zM917.6 797.6h3.8v3.8h-3.8zM925.7 787.9h5.4v5.4h-5.4zM934.5 796.8h5.4v5.4h-5.4zM943.3 787.9h5.4v5.4h-5.4zM952.2 796.8h5.4v5.4h-5.4zM970.7 797.6h3.8v3.8h-3.8zM988.3 797.6h3.8v3.8h-3.8zM997.2 788.7h3.8v3.8h-3.8zM1005.2 796.8h5.4v5.4h-5.4zM1014 787.9h5.4v5.4h-5.4zM1022.9 796.8h5.4v5.4h-5.4zM1031.7 787.9h5.4v5.4h-5.4zM1075.9 796.8h5.4v5.4h-5.4zM1084.7 787.9h5.4v5.4h-5.4zM1093.5 796.8h5.4v5.4h-5.4zM1155.4 787.9h5.4v5.4h-5.4zM1164.2 796.8h5.4v5.4h-5.4zM1173 787.9h5.4v5.4h-5.4zM1181.9 796.8h5.4v5.4h-5.4zM1235.7 797.6h3.8v3.8h-3.8zM1243.7 787.9h5.4v5.4h-5.4zM1252.6 796.8h5.4v5.4h-5.4zM1261.4 787.9h5.4v5.4h-5.4zM1270.2 796.8h5.4v5.4h-5.4zM1279.1 787.9h5.4v5.4h-5.4zM1288.7 797.6h3.8v3.8h-3.8zM1305.6 796.8h5.4v5.4h-5.4zM1323.2 796.8h5.4v5.4h-5.4zM1332.1 787.9h5.4v5.4h-5.4zM1340.9 796.8h5.4v5.4h-5.4zM1349.8 787.9h5.4v5.4h-5.4zM1393.9 796.8h5.4v5.4h-5.4zM1402.8 787.9h5.4v5.4h-5.4zM1411.6 796.8h5.4v5.4h-5.4zM1420.4 787.9h5.4v5.4h-5.4zM1430.1 797.6h3.8v3.8h-3.8zM1483.1 797.6h3.8v3.8h-3.8zM1491.1 787.9h5.4v5.4h-5.4zM1499.9 796.8h5.4v5.4h-5.4zM1508.8 787.9h5.4v5.4h-5.4zM1517.6 796.8h5.4v5.4h-5.4zM1526.5 787.9h5.4v5.4h-5.4zM1535.3 796.8h5.4v5.4h-5.4zM731.3 805.6h5.4v5.4h-5.4zM749 805.6h5.4v5.4h-5.4zM766.6 805.6h5.4v5.4h-5.4zM784.3 805.6h5.4v5.4h-5.4zM802.8 806.4h3.8v3.8h-3.8zM819.6 805.6h5.4v5.4h-5.4zM837.3 805.6h5.4v5.4h-5.4zM855 805.6h5.4v5.4h-5.4zM872.7 805.6h5.4v5.4h-5.4zM890.3 805.6h5.4v5.4h-5.4zM943.3 805.6h5.4v5.4h-5.4zM961 805.6h5.4v5.4h-5.4zM978.7 805.6h5.4v5.4h-5.4zM996.3 805.6h5.4v5.4h-5.4zM1014.8 806.4h3.8v3.8h-3.8zM1067 805.6h5.4v5.4h-5.4zM1084.7 805.6h5.4v5.4h-5.4zM1102.4 805.6h5.4v5.4h-5.4zM1173 805.6h5.4v5.4h-5.4zM1226.1 805.6h5.4v5.4h-5.4zM1243.7 805.6h5.4v5.4h-5.4zM1261.4 805.6h5.4v5.4h-5.4zM1279.1 805.6h5.4v5.4h-5.4zM1296.7 805.6h5.4v5.4h-5.4zM1314.4 805.6h5.4v5.4h-5.4zM1332.9 806.4h3.8v3.8h-3.8zM1385.1 805.6h5.4v5.4h-5.4zM1402.8 805.6h5.4v5.4h-5.4zM1420.4 805.6h5.4v5.4h-5.4zM1438.9 806.4h3.8v3.8h-3.8zM1474.2 806.4h3.8v3.8h-3.8zM1491.1 805.6h5.4v5.4h-5.4zM1508.8 805.6h5.4v5.4h-5.4zM1526.5 805.6h5.4v5.4h-5.4zM1544.1 805.6h5.4v5.4h-5.4z" fill="#fff"/></mask></defs>
<g mask="url(#hm)" fill="#000" stroke="#000" stroke-width="14" stroke-linejoin="round"><text class="wmt" y="810.2" font-size="139"><tspan x="723.4" textLength="173.6" lengthAdjust="spacingAndGlyphs">H</tspan><tspan x="900" textLength="154" lengthAdjust="spacingAndGlyphs">O</tspan><tspan x="1059" textLength="145" lengthAdjust="spacingAndGlyphs">N</tspan><tspan x="1226" textLength="152" lengthAdjust="spacingAndGlyphs">D</tspan><tspan x="1388" textLength="163" lengthAdjust="spacingAndGlyphs">A</tspan></text></g>
<g fill="none" stroke="#000" stroke-linecap="round" stroke-linejoin="round">
<line x1="3016" y1="1233.8" x2="2293.1" y2="1623.3" stroke-width="3.1" stroke-dasharray="213.5 12 27 11" stroke-dashoffset="0" stroke-linecap="butt"/>
<line x1="2293.1" y1="1623.3" x2="1713.8" y2="1623.3" stroke-width="3.2" stroke-dasharray="213.5 12 27 11" stroke-dashoffset="30.7" stroke-linecap="butt"/>
<line x1="1713.8" y1="1623.3" x2="386.8" y2="897.8" stroke-width="3.1" stroke-dasharray="213.5 12 27 11" stroke-dashoffset="83" stroke-linecap="butt"/>
<line x1="386.8" y1="897.8" x2="386.8" y2="76.2" stroke-width="5.6" stroke-dasharray="213.5 12 27 11" stroke-dashoffset="14.3" stroke-linecap="butt"/>
<line x1="386.8" y1="76.2" x2="2356" y2="76.2" stroke-width="3.6" stroke-dasharray="213.5 12 27 11" stroke-dashoffset="45.4" stroke-linecap="butt"/>
<line x1="2356" y1="76.2" x2="3016" y2="471" stroke-width="3" stroke-dasharray="213.5 12 27 11" stroke-dashoffset="170.1" stroke-linecap="butt"/>
<line x1="3016" y1="471" x2="3016" y2="1233.8" stroke-width="3.1" stroke-dasharray="213.5 12 27 11" stroke-dashoffset="148.7" stroke-linecap="butt"/>
<line x1="327.8" y1="561.3" x2="386" y2="561.3" stroke-width="3.5" stroke-linecap="butt"/>
<text class="lb" x="293.3" y="579.4">1</text>
<rect x="294.4" y="573.4" width="12.9" height="8" fill="#fff" stroke="none"/>
<rect x="313.7" y="573.4" width="10.8" height="8" fill="#fff" stroke="none"/>
<text class="lb" x="994.8" y="247.8" text-anchor="middle">2</text>
<line x1="995.5" y1="264" x2="995.5" y2="313.9" stroke-width="3.4" stroke-linecap="butt"/>
<text class="lb" x="1080.4" y="899.3" text-anchor="middle">3</text>
<line x1="1080.4" y1="907.6" x2="1080.4" y2="949.5" stroke-width="3.4" stroke-linecap="butt"/>
<text class="lb" x="2100.8" y="1093" text-anchor="middle">4</text>
<line x1="2102.5" y1="1107.6" x2="2102.5" y2="1148.6" stroke-width="3.4" stroke-linecap="butt"/>
<text class="lb" x="1435.7" y="882.4" text-anchor="middle">5</text>
<line x1="1435.7" y1="898.2" x2="1435.7" y2="943" stroke-width="3.4" stroke-linecap="butt"/>
<text class="lb" x="1593.3" y="699.2" text-anchor="middle">6</text>
<line x1="1591.9" y1="714.2" x2="1591.9" y2="772.9" stroke-width="3.4" stroke-linecap="butt"/>
<text class="lb" x="1765.8" y="593" text-anchor="middle">7</text>
<line x1="1767.1" y1="608" x2="1767.1" y2="655.5" stroke-width="3.4" stroke-linecap="butt"/>
<text class="lb" x="2446.7" y="266.6" text-anchor="middle">8</text>
<line x1="2446.3" y1="279.9" x2="2446.3" y2="324.5" stroke-width="3.4" stroke-linecap="butt"/>
<text class="lb" x="2035.8" y="496.5" text-anchor="middle">9</text>
<line x1="2036.6" y1="512.4" x2="2036.6" y2="564.5" stroke-width="3.4" stroke-linecap="butt"/>
<text class="lb" x="2220.3" y="376.1" letter-spacing="-3">10</text>
<rect x="2221.4" y="370.1" width="12.9" height="8" fill="#fff" stroke="none"/>
<rect x="2240.7" y="370.1" width="10.8" height="8" fill="#fff" stroke="none"/>
<line x1="2249" y1="391.9" x2="2249" y2="439.1" stroke-width="3.4" stroke-linecap="butt"/>
<text class="lb" x="2553.5" y="964.6" letter-spacing="-3">11</text>
<rect x="2554.6" y="958.6" width="12.9" height="8" fill="#fff" stroke="none"/>
<rect x="2573.9" y="958.6" width="10.8" height="8" fill="#fff" stroke="none"/>
<rect x="2583.3" y="958.6" width="12.9" height="8" fill="#fff" stroke="none"/>
<rect x="2602.6" y="958.6" width="10.8" height="8" fill="#fff" stroke="none"/>
<line x1="2581.8" y1="981.4" x2="2581.8" y2="1042.4" stroke-width="3.4" stroke-linecap="butt"/>
<text class="lb" x="2370.6" y="1059" letter-spacing="-3">12</text>
<rect x="2371.7" y="1053" width="12.9" height="8" fill="#fff" stroke="none"/>
<rect x="2391" y="1053" width="10.8" height="8" fill="#fff" stroke="none"/>
<line x1="2400.7" y1="1073.4" x2="2400.7" y2="1136.9" stroke-width="3.4" stroke-linecap="butt"/>
<text class="lb" x="2699.6" y="771.2" letter-spacing="-3">13</text>
<rect x="2700.7" y="765.2" width="12.9" height="8" fill="#fff" stroke="none"/>
<rect x="2720" y="765.2" width="10.8" height="8" fill="#fff" stroke="none"/>
<line x1="2729.3" y1="786.6" x2="2729.3" y2="835.5" stroke-width="3.4" stroke-linecap="butt"/>
<text id="code" x="3061" y="1656.7" style="font-size:38.5px" class="lb">MFR8F4800</text>
<path d="M476.8 300.4 L716.1 160.4" stroke-width="4" fill="none"/>
<path d="M716.1 160.4 C717.2 160 720.1 158.4 722.6 157.8 C725.1 157.3 728.2 157.2 731.3 157.2 C734.4 157.2 738.6 157.4 741.1 157.8 C743.6 158.3 745.6 159.6 746.5 160" stroke-width="4" fill="none"/>
<path d="M746.5 160 L996.5 316" stroke-width="4" fill="none"/>
<path d="M996.5 316 L1167.6 421.3" stroke-width="2.6" fill="none"/>
<path d="M476.8 300.4 L462.3 308.6 L461.2 311.5 L461.8 315.5" stroke-width="4" fill="none"/>
<path d="M461.8 315.5 L1051.8 651.6 L1059 653.2" stroke-width="4" fill="none"/>
<path d="M465.1 310.3 L1056.5 645.2" stroke-width="2.3" fill="none"/>
<path d="M477.9 302.1 L1058.8 631.8" stroke-width="2.3" fill="none"/>
<path d="M1167.6 421.3 C1171.4 421.2 1183.7 420.7 1190.4 420.9 C1197.1 421.1 1202 420.7 1207.8 422.4 C1213.6 424.1 1222.3 429.6 1225.2 431.1" stroke-width="3.6" fill="none"/>
<path d="M1225.2 431.1 L1312.2 473.5" stroke-width="3.6" fill="none"/>
<path d="M1312.2 473.5 C1314.3 474.7 1322 477.8 1325.2 481.1 C1328.4 484.3 1330.4 489.2 1331.3 493 C1332.2 496.8 1331.7 501 1330.7 503.9 C1329.6 506.8 1326.1 509.3 1325.2 510.4" stroke-width="3.6" fill="none"/>
<path d="M1325.2 510.4 L1079.6 644.1" stroke-width="3.6" fill="none"/>
<path d="M1167.6 421.3 L1077.4 469.1 L988.3 515.9" stroke-width="3.6" fill="none"/>
<path d="M988.3 515.9 C985.9 517.5 977.5 521.5 974.1 525.7 C970.8 529.8 968.8 536.2 968 540.9 C967.3 545.6 968.4 550.1 969.8 553.9 C971.2 557.7 975.2 562.1 976.3 563.7" stroke-width="3.6" fill="none"/>
<path d="M976.3 563.7 L1049.1 610.4" stroke-width="3.6" fill="none"/>
<path d="M1049.1 610.4 C1052 612.6 1062.6 619.5 1066.5 623.5 C1070.4 627.5 1071.8 630.5 1072.6 634.3 C1073.4 638.2 1072.7 643.3 1071.3 646.3 C1069.9 649.3 1066.8 651.3 1064.3 652.2 C1061.9 653.1 1058 651.8 1056.7 651.7" stroke-width="3.6" fill="none"/>
<path d="M1157.8 437 C1160.7 436.2 1169.4 433 1175.2 432.2 C1181 431.4 1186.8 431.6 1192.6 432.2 C1198.4 432.7 1207.1 434.9 1210 435.4" stroke-width="3" fill="none"/>
<path d="M1210 435.4 L1305.7 478.9" stroke-width="3" fill="none"/>
<path d="M1305.7 478.9 C1307.8 480.5 1315.6 484.9 1318.7 488.7 C1321.8 492.5 1323.2 498.1 1324.1 501.7 C1325 505.4 1324.1 509 1324.1 510.4" stroke-width="3" fill="none"/>
<path d="M1157.8 437 L1010 517" stroke-width="3" fill="none"/>
<path d="M1010 517 C1007.3 518.8 997.5 523.8 993.7 527.8 C989.9 531.8 987.9 536.5 987.2 540.9 C986.4 545.2 987.4 549.9 989.3 553.9 C991.3 557.9 997.5 563 999.1 564.8" stroke-width="3" fill="none"/>
<path d="M999.1 564.8 L1068.7 608.3" stroke-width="3" fill="none"/>
<path d="M1068.7 608.3 C1070.7 610.1 1077.9 615.1 1080.7 619.1 C1083.4 623.1 1084.5 628.6 1085 632.2 C1085.5 635.8 1084.8 638.9 1083.9 640.9 C1083 642.9 1080.3 643.6 1079.6 644.1" stroke-width="3" fill="none"/>
<path d="M975.2 560.4 L1055.7 614.8" stroke-width="2.6" fill="none"/>
<path d="M1055.7 614.8 C1057.1 616.4 1062.6 620.9 1064.3 624.6 C1066.1 628.2 1066.3 632.9 1066.1 636.5 C1065.9 640.1 1063.7 644.7 1063.3 646.3" stroke-width="2.6" fill="none"/>
<ellipse cx="1112.6" cy="478.3" rx="23.3" ry="12.6" transform="rotate(0 1112.6 478.3)" stroke-width="3.2" fill="none"/>
<path d="M1089.8 480 C1090 481.8 1089.3 487.8 1090.9 490.9 C1092.4 493.9 1095.4 496.7 1099.1 498.5 C1102.9 500.2 1108.6 501.3 1113.3 501.3 C1118 501.3 1123.8 500.4 1127.4 498.5 C1131 496.6 1133.6 492.9 1135 489.8 C1136.4 486.6 1135.5 481.3 1135.7 479.6" stroke-width="3.2" fill="none"/>
<path d="M1057.4 985.9 C1056.8 987 1057 989.5 1054.1 992.4 C1051.2 995.3 1045.6 999.7 1040 1003.3 C1034.4 1006.8 1028.4 1010.1 1020.4 1013.5 C1012.5 1016.8 1002.3 1020.4 992.2 1023.3 C982 1026.1 970.4 1028.8 959.6 1030.4 C948.7 1032.1 937.8 1033 927 1033 C916.1 1033.1 903.8 1031.4 894.3 1030.9 C884.9 1030.3 875.4 1028.8 870.4 1029.6 C865.4 1030.3 865.5 1031.8 864.3 1035.2 C863.2 1038.6 862.6 1046.3 863.5 1050 C864.3 1053.7 868.4 1056.3 869.3 1057.6" stroke-width="4.6" fill="none"/>
<path d="M1057.4 985.9 C1054.3 985.8 1042.8 986.1 1038.9 985.2 C1035 984.4 1035 984.5 1034.1 980.9 C1033.3 977.2 1033.1 967 1033.7 963.5 C1034.3 960 1034.8 960.6 1037.8 959.8 C1040.9 959 1048.5 959.9 1052 958.7 C1055.4 957.5 1053.9 953.9 1058.5 952.8 C1063 951.7 1073.9 950.5 1079.1 952.2 C1084.4 953.9 1087.1 959.1 1090 963 C1092.9 967 1094.9 971.4 1096.5 976.1 C1098.2 980.8 1099.6 986.2 1099.8 991.3 C1100 996.4 1099.6 1002.4 1097.6 1006.5 C1095.6 1010.7 1091.3 1012.7 1087.8 1016.3 C1084.4 1019.9 1080.2 1024.6 1077 1028.3 C1073.7 1031.9 1070 1035.1 1068.3 1038 C1066.6 1040.9 1066.4 1042.9 1066.7 1045.7 C1067.1 1048.4 1068.4 1051.6 1070.4 1054.3 C1072.5 1057.1 1075.9 1059.6 1079.1 1062 C1082.4 1064.3 1088.2 1067.4 1090 1068.5" stroke-width="4.6" fill="none"/>
<path d="M1037.4 972.8 C1042.2 972.9 1060.4 972.9 1066.1 973.5 C1071.8 974.1 1071.5 975.1 1071.5 976.5 C1071.5 978 1068.4 980.6 1066.1 982.2 C1063.7 983.7 1058.8 985.3 1057.4 985.9" stroke-width="4.6" fill="none"/>
<path d="M1037.8 977.6 L1065 976.5" stroke-width="2.2" fill="none"/>
<path d="M1096.5 1007.6 C1096.2 1010 1096.6 1017.2 1094.8 1021.7 C1093 1026.3 1089.8 1030.3 1085.7 1034.8 C1081.5 1039.3 1072.6 1046.6 1070 1048.9" stroke-width="2.4" fill="none"/>
<path d="M1091.7 1011.3 L1069.3 1045.2" stroke-width="2.2" fill="none"/>
<path d="M1090 1068.5 L1257.1 1155.1" stroke-width="4.6" fill="none"/>
<path d="M1257.1 1155.1 C1258 1155.8 1261.8 1157.3 1262.7 1159.4 C1263.6 1161.4 1261.1 1164.9 1262.3 1167.2 C1263.6 1169.5 1268.8 1172.2 1270.1 1173.1" stroke-width="4.6" fill="none"/>
<path d="M1270.1 1173.1 L1305.5 1188.6" stroke-width="4.6" fill="none"/>
<path d="M1305.5 1188.6 C1306.6 1189.7 1310.6 1192.6 1312.1 1195.1 C1313.5 1197.6 1313.8 1202.1 1314.1 1203.5" stroke-width="4.6" fill="none"/>
<path d="M1314.1 1203.5 L1313.7 1224.9" stroke-width="4.6" fill="none"/>
<ellipse cx="1306.5" cy="1203" rx="7" ry="6.2" transform="rotate(0 1306.5 1203)" stroke-width="3.6" fill="none"/>
<path d="M869.3 1057.6 C875.3 1058.9 893.8 1062.4 905.2 1065.2 C916.6 1068 928.4 1071.1 937.8 1074.3 C947.2 1077.6 957.8 1083 961.7 1084.8" stroke-width="4.6" fill="none"/>
<path d="M961.7 1084.8 L1182.6 1210" stroke-width="4.6" fill="none"/>
<path d="M1182.6 1210 C1183.5 1210.3 1186 1212.1 1188.2 1211.9 C1190.3 1211.7 1192.8 1209.4 1195.6 1209.1 C1198.4 1208.8 1203.4 1209.9 1204.9 1210" stroke-width="4.6" fill="none"/>
<path d="M1204.9 1210 L1245.9 1236.1" stroke-width="4.6" fill="none"/>
<path d="M1245.9 1236.1 C1246.9 1236.3 1248.1 1238.5 1251.5 1237.2 C1254.9 1236 1261.5 1228.7 1266.4 1228.7 C1271.4 1228.6 1277 1235.6 1281.3 1237 C1285.7 1238.5 1287.1 1239.3 1292.5 1237.2 C1297.9 1235.2 1310.2 1227 1313.7 1224.9" stroke-width="4.6" fill="none"/>
<path d="M865.7 1042.4 C872.2 1043.7 893.2 1047.2 905.2 1050 C917.2 1052.8 927 1055.1 937.8 1059.1 C948.7 1063.1 965 1071.4 970.4 1073.9" stroke-width="2.4" fill="none"/>
<path d="M970.4 1073.9 L1186.3 1197" stroke-width="2.4" fill="none"/>
<path d="M1186.3 1197 C1187.5 1196.9 1191.4 1196.4 1193.8 1196.2 C1196.1 1196.1 1199.2 1196.2 1200.3 1196.2" stroke-width="2.4" fill="none"/>
<path d="M1200.3 1196.2 L1247.8 1224" stroke-width="2.4" fill="none"/>
<path d="M1247.8 1224 C1250 1223.7 1256.8 1222.5 1260.8 1222.1 C1264.9 1221.7 1268.3 1220.7 1272 1221.6 C1275.7 1222.5 1279.9 1226.9 1283.2 1227.7 C1286.4 1228.6 1286.6 1228.8 1291.6 1226.8 C1296.5 1224.8 1309.4 1217.5 1313 1215.6" stroke-width="2.4" fill="none"/>
<ellipse cx="1253" cy="1195.1" rx="7.2" ry="4.8" transform="rotate(0 1253 1195.1)" stroke-width="3.4" fill="none"/>
<path d="M1273.9 1215.1 L1289.7 1207.2" stroke-width="3" fill="none"/>
<ellipse cx="1157.8" cy="1143.5" rx="15" ry="5.6" transform="rotate(27 1157.8 1143.5)" stroke-width="3.6" fill="none"/>
<path d="M1999.9 1114.9 C1998.5 1115.5 1993.7 1116.5 1991.6 1118.6 C1989.4 1120.8 1987.5 1124.8 1986.9 1128 C1986.3 1131.1 1986.6 1134.6 1987.8 1137.3 C1989.1 1139.9 1993.3 1142.7 1994.3 1143.8" stroke-width="4" fill="none"/>
<path d="M1999.9 1114.9 C2001.8 1115.2 2004.6 1114.6 2011.1 1116.8 C2017.6 1118.9 2028.2 1123.9 2039.1 1128 C2049.9 1132 2065.8 1137 2076.3 1141 C2086.9 1145 2093.1 1147.8 2102.4 1152.2 C2111.7 1156.5 2121.1 1160.2 2132.2 1167.1 C2143.4 1173.9 2157.1 1183.5 2169.5 1193.2 C2181.9 1202.8 2198.4 1217 2206.8 1224.8 C2215.2 1232.6 2213.4 1233.8 2219.8 1240 C2226.2 1246.2 2236.9 1255.4 2245.4 1262.2 C2254 1269 2263.6 1276.2 2271 1281 C2278.5 1285.8 2283.6 1288.8 2289.8 1291.3 C2296.1 1293.7 2303.2 1294 2308.6 1295.5 C2314 1297.1 2315.8 1297.9 2322.3 1300.6 C2328.9 1303.4 2339.4 1307.1 2347.9 1311.8 C2356.5 1316.5 2365 1322.3 2373.6 1328.8 C2382.1 1335.4 2392.1 1343.6 2399.2 1351 C2406.3 1358.5 2411.7 1366.7 2416.3 1373.3 C2420.8 1379.8 2424 1384.6 2426.5 1390.3 C2429.1 1396 2430.7 1402.3 2431.6 1407.4 C2432.6 1412.6 2432.8 1417.5 2432 1421.1 C2431.1 1424.7 2429.1 1426.2 2426.5 1428.8 C2423.9 1431.4 2418 1435.5 2416.3 1436.8" stroke-width="4" fill="none"/>
<path d="M1994.3 1143.8 C1998.7 1146.1 2009.9 1153.1 2020.4 1157.8 C2031 1162.4 2045.3 1166.8 2057.7 1171.7 C2070.1 1176.7 2082.5 1181.2 2095 1187.6 C2107.4 1193.9 2121.4 1202.2 2132.2 1209.9 C2143.1 1217.7 2150.9 1225.8 2160.2 1234.2 C2169.5 1242.5 2180.4 1252.5 2188.1 1260.2 C2195.9 1268 2203.2 1277 2206.8 1280.7 C2210.3 1284.5 2208.5 1281.8 2209.5 1282.7 C2210.6 1283.7 2212.7 1285.8 2213.3 1286.5" stroke-width="4" fill="none"/>
<path d="M1997.1 1125.2 C1999.5 1126.6 2004.1 1130.6 2011.1 1133.5 C2018.1 1136.5 2028.2 1139.1 2039.1 1142.9 C2049.9 1146.6 2063.9 1150.9 2076.3 1155.9 C2088.8 1160.9 2101.2 1165.8 2113.6 1172.7 C2126 1179.5 2138.4 1186.6 2150.9 1196.9 C2163.3 1207.1 2178.2 1223.6 2188.1 1234.2 C2198.1 1244.7 2204.6 1253.6 2210.5 1260.2 C2216.3 1266.9 2221.1 1271.8 2223.2 1274.2 C2225.3 1276.5 2222.9 1272.7 2223.2 1274.2 C2223.6 1275.6 2224.9 1281.6 2225.3 1283.1" stroke-width="2.6" fill="none"/>
<path d="M1915.2 1141.9 C1914.1 1142.5 1910.3 1143.6 1908.6 1145.7 C1906.9 1147.7 1905.5 1150.8 1904.9 1154 C1904.3 1157.3 1904 1161.8 1904.9 1165.2 C1905.8 1168.6 1907.7 1171.4 1910.5 1174.5 C1913.3 1177.6 1918.4 1180.1 1921.7 1183.9 C1924.9 1187.6 1927.6 1193.2 1930.1 1196.9 C1932.5 1200.6 1933.9 1203.1 1936.6 1206.2 C1939.2 1209.3 1940.6 1211.5 1945.9 1215.5 C1951.2 1219.6 1963 1226.1 1968.3 1230.4 C1973.5 1234.8 1972 1237.3 1977.6 1241.6 C1983.2 1246 1994 1251.9 2001.8 1256.5 C2009.6 1261.2 2016.4 1265.8 2024.2 1269.6 C2031.9 1273.3 2039.7 1276.1 2048.4 1278.9 C2057.1 1281.7 2065.5 1283.5 2076.3 1286.3 C2087.2 1289.1 2101.2 1292.9 2113.6 1295.7 C2126 1298.4 2138.4 1300 2150.9 1303.1 C2163.3 1306.2 2175.2 1309.4 2188.1 1314.3 C2201 1319.1 2219.6 1328.3 2228.3 1332.3 C2237 1336.2 2236.9 1335.2 2240.3 1337.7 C2243.7 1340.3 2247.4 1346 2248.8 1347.6" stroke-width="4" fill="none"/>
<path d="M1915.2 1141.9 C1917.2 1142.5 1922.1 1142.7 1927.3 1145.7 C1932.4 1148.6 1939.1 1153.6 1945.9 1159.6 C1952.7 1165.7 1960.5 1175.2 1968.3 1182 C1976 1188.8 1983.8 1194.4 1992.5 1200.6 C2001.2 1206.8 2009.6 1213 2020.4 1219.3 C2031.3 1225.5 2045.3 1232.3 2057.7 1237.9 C2070.1 1243.5 2082.5 1248.4 2095 1252.8 C2107.4 1257.1 2119.8 1260.6 2132.2 1264 C2144.7 1267.4 2157.1 1270.3 2169.5 1273.3 C2181.9 1276.2 2199.5 1279.7 2206.8 1281.7 C2214 1283.7 2206.5 1284.4 2213 1285.3 C2219.4 1286.2 2234.6 1287 2245.4 1287.2 C2256.2 1287.3 2272.5 1286.3 2277.9 1286.1" stroke-width="4" fill="none"/>
<path d="M1912.4 1149.4 C1916.4 1151.4 1930.1 1156.7 1936.6 1161.5 C1943.1 1166.3 1946.8 1172.4 1951.5 1178.3 C1956.1 1184.2 1959.3 1190.7 1964.5 1196.9 C1969.8 1203.1 1975.4 1209.9 1983.2 1215.5 C1990.9 1221.1 2001.2 1225.2 2011.1 1230.4 C2021.1 1235.7 2037.5 1244.4 2042.8 1247.2" stroke-width="3" fill="none"/>
<path d="M2078.2 1264 C2084.1 1265.8 2101.5 1271.1 2113.6 1275.2 C2125.7 1279.2 2138.4 1283.8 2150.9 1288.2 C2163.3 1292.5 2175.7 1296.3 2188.1 1301.2 C2200.6 1306.2 2213 1311.4 2225.4 1318 C2237.8 1324.6 2253.5 1336.1 2262.5 1340.8 C2271.5 1345.4 2273.9 1345.1 2279.6 1345.9 C2285.3 1346.8 2291.5 1346.5 2296.7 1345.9 C2301.8 1345.4 2306.1 1343.1 2310.3 1342.5 C2314.6 1341.9 2318.9 1341.4 2322.3 1342.5 C2325.7 1343.6 2329.1 1346.5 2330.8 1349.3 C2332.6 1352.2 2332.3 1357.9 2332.6 1359.6" stroke-width="2.6" fill="none"/>
<path d="M1908.6 1154 L1910.5 1170.8" stroke-width="3" fill="none"/>
<path d="M1914.2 1155.9 L1916.1 1174.5" stroke-width="3" fill="none"/>
<path d="M1921.7 1159.6 L1922.6 1180.1" stroke-width="3" fill="none"/>
<path d="M1928.2 1165.2 L1927.3 1187.6" stroke-width="3" fill="none"/>
<path d="M1934.7 1172.7 L1933.8 1195" stroke-width="3" fill="none"/>
<path d="M1936.6 1193.2 L1962.7 1202.5 L1945.9 1211.8 L1977.6 1221.1 L1973.9 1230.4 L2001.8 1239.8" stroke-width="2.4" fill="none"/>
<path d="M1936.6 1196.9 L1979.4 1223" stroke-width="2.4" fill="none"/>
<path d="M1960.8 1200.6 L1983.2 1219.3 L2001.8 1241.6 L2009.3 1254.7" stroke-width="2.4" fill="none"/>
<path d="M2001.8 1239.8 L2024.2 1237.9" stroke-width="2.4" fill="none"/>
<path d="M2057.7 1249.4 L2020.4 1251.3 L2039.1 1267.7" stroke-width="3.4" fill="none"/>
<path d="M2024.2 1252.8 L2061.4 1254.7" stroke-width="2.4" fill="none"/>
<path d="M2042.8 1247.2 L2076.3 1262.1" stroke-width="2.6" fill="none"/>
<path d="M2058.6 1262.1 L2058.6 1277" stroke-width="3" fill="none"/>
<path d="M2067 1262.1 L2066.3 1279.3" stroke-width="3" fill="none"/>
<path d="M2076.7 1262.5 L2076.3 1284.5" stroke-width="3.4" fill="none"/>
<path d="M2063.3 1262.5 L2062.9 1277.9" stroke-width="2.2" fill="none"/>
<path d="M2071.7 1262.5 L2071.1 1281.7" stroke-width="2.2" fill="none"/>
<path d="M2248.8 1347.6 C2251.1 1348.5 2259.1 1351 2262.5 1352.8 C2265.9 1354.5 2264.2 1356.7 2269.3 1357.9 C2274.5 1359 2286.4 1360.4 2293.3 1359.6 C2300.1 1358.8 2305.8 1353.6 2310.3 1353.1 C2314.9 1352.6 2316.9 1354.2 2320.6 1356.5 C2324.3 1358.8 2330.6 1365.1 2332.6 1366.8" stroke-width="4" fill="none"/>
<path d="M2248.8 1347.6 C2248.6 1349.1 2246.8 1353 2247.1 1356.2 C2247.4 1359.3 2249.1 1363 2250.5 1366.4 C2252 1369.8 2252.3 1372.1 2255.7 1376.7 C2259.1 1381.2 2264.2 1388.1 2271 1393.8 C2277.9 1399.5 2286.7 1405.7 2296.7 1410.8 C2306.6 1416 2319.5 1420.8 2330.8 1424.5 C2342.2 1428.2 2353.6 1431 2365 1433.1 C2376.4 1435.1 2390.6 1436.2 2399.2 1436.8 C2407.7 1437.4 2413.4 1436.8 2416.3 1436.8" stroke-width="4" fill="none"/>
<path d="M2264.2 1357.9 L2269.3 1364.7 L2313.8 1400.6 L2324 1400.6 L2334.3 1388.6" stroke-width="3.2" fill="none"/>
<path d="M2334.3 1388.6 C2336 1387.8 2340.8 1384.9 2344.5 1383.9 C2348.2 1382.8 2353.1 1381.6 2356.5 1382.1 C2359.9 1382.7 2363.6 1386.1 2365 1386.9" stroke-width="3.2" fill="none"/>
<path d="M2365 1386.9 L2399.2 1394.1 L2423.1 1404.4" stroke-width="3.4" fill="none"/>
<path d="M2334.3 1397.2 L2382.1 1410.8 L2416.3 1416.3" stroke-width="2.6" fill="none"/>
<path d="M2416.3 1416.3 L2416.3 1436.5" stroke-width="3.2" fill="none"/>
<path d="M2423.1 1404.4 L2426.5 1427.9" stroke-width="3.2" fill="none"/>
<path d="M2426.9 1408.3 L2429.9 1421.1" stroke-width="2.4" fill="none"/>
<path d="M2331.2 1351.4 L2336 1382.1" stroke-width="3.4" fill="none"/>
<path d="M2332.6 1352.8 L2353.1 1351 L2354.8 1366.4 L2334.6 1368.1" stroke-width="3.2" fill="none"/>
<path d="M2336 1382.1 L2355.1 1380.4 L2354.8 1366.4" stroke-width="3.2" fill="none"/>
<path d="M2356.5 1356.5 L2361.9 1383.9" stroke-width="3.2" fill="none"/>
<path d="M2365 1359.9 L2373.6 1359.9 L2371.8 1385.6" stroke-width="3.2" fill="none"/>
<path d="M2377 1366.8 L2385.5 1368.5 L2383.8 1387.3" stroke-width="3.2" fill="none"/>
<path d="M2388.9 1377 L2395.1 1377 L2395.1 1387.3" stroke-width="3.2" fill="none"/>
<path d="M2353.1 1351 L2365 1357.9 L2375.3 1359.9 L2387.2 1368.5 L2395.8 1377 L2399.2 1389 L2423.1 1402.6" stroke-width="3.2" fill="none"/>
<ellipse cx="2304.4" cy="1304.9" rx="15.5" ry="8.5" transform="rotate(8 2304.4 1304.9)" stroke-width="3.4" fill="none"/>
<path d="M2288.5 1300.1 C2288.1 1301.5 2286.2 1305.8 2286.4 1308.3 C2286.7 1310.9 2286.7 1314 2289.8 1315.5 C2293 1317 2300.4 1317.5 2305.2 1317.2 C2310.1 1316.9 2316.6 1314.4 2318.9 1313.8" stroke-width="3.4" fill="none"/>
<path d="M2322.3 1303.6 C2322.4 1305 2323.2 1309.5 2322.6 1312.1 C2322.1 1314.7 2321.8 1316.9 2318.9 1318.9 C2316 1320.9 2311.2 1322.5 2305.2 1324.1 C2299.2 1325.6 2288.1 1327.9 2283 1328.2 C2277.9 1328.4 2276.4 1327.3 2274.8 1325.8 C2273.2 1324.2 2272.6 1320.9 2273.4 1318.9 C2274.2 1316.9 2277.3 1315 2279.6 1313.8 C2281.9 1312.6 2286 1312.1 2287.3 1311.8" stroke-width="3.6" fill="none"/>
<path d="M2277.9 1320.6 C2279.3 1320.2 2284.4 1318 2286.4 1317.9 C2288.4 1317.8 2289.7 1319.4 2289.8 1320.3 C2290 1321.2 2289 1322.5 2287.3 1323 C2285.6 1323.6 2281.2 1324.1 2279.6 1323.7 C2278 1323.3 2278.2 1321.2 2277.9 1320.6" stroke-width="2.4" fill="none"/>
<path d="M2277.9 1286.1 L2289.8 1291.3" stroke-width="4" fill="none"/>
<path d="M1208.4 836.1 C1206.6 836.4 1201.2 835.8 1197.3 837.9 C1193.3 840 1187.9 844.5 1184.8 848.6 C1181.7 852.6 1179.5 857.3 1178.6 862.2 C1177.7 867.2 1178.3 874.6 1179.4 878.4 C1180.4 882.2 1182.6 883.3 1184.8 885.1 C1187.1 886.8 1191.5 888.2 1192.8 888.8" stroke-width="4.5" fill="none"/>
<path d="M1208.4 836.1 L1309 892" stroke-width="4.5" fill="none"/>
<path d="M1192.8 888.8 L1287.2 939.7" stroke-width="4.5" fill="none"/>
<path d="M1196 844.8 L1300.4 902" stroke-width="3.4" fill="none"/>
<path d="M1182.4 866 L1289.2 923.1" stroke-width="3.4" fill="none"/>
<path d="M1309.7 892.3 C1311.7 892.1 1317.8 891.1 1321.5 891.1 C1325.2 891 1328.9 891 1332 892 C1335.2 893.1 1339 896.7 1340.4 897.6" stroke-width="4.5" fill="none"/>
<path d="M1307.6 895.2 C1306.2 896.8 1302.1 900.4 1299.1 905.1 C1296.2 909.8 1292 917.4 1289.8 923.1 C1287.6 928.8 1286.4 935.1 1286.1 939.3 C1285.8 943.4 1286.7 945.1 1288 948 C1289.2 950.8 1291.5 954.4 1293.5 956.6 C1295.6 958.9 1297.8 960.5 1300.4 961.6 C1302.9 962.7 1307.3 962.9 1308.7 963.1" stroke-width="4.5" fill="none"/>
<path d="M1336.4 899.5 C1334.4 901.1 1327.7 905.5 1324.6 908.8 C1321.5 912.1 1319.9 915.5 1317.8 919.4 C1315.6 923.2 1313.1 927.7 1311.6 931.8 C1310 935.9 1309 939 1308.6 944.2 C1308.1 949.4 1308.7 960 1308.7 963.1" stroke-width="4.5" fill="none"/>
<path d="M1308.1 900.7 L1324.6 908.7" stroke-width="3.8" fill="none"/>
<path d="M1291.7 932.4 L1307.3 942.4" stroke-width="3.6" fill="none"/>
<path d="M1340.8 900 C1342.4 899.8 1346.6 898.4 1350 899 C1353.4 899.5 1359.3 902.5 1361.2 903.2" stroke-width="4.5" fill="none"/>
<path d="M1361.2 903.2 L1461.8 959.1 L1542.5 1005" stroke-width="4.5" fill="none"/>
<path d="M1308.5 963.6 C1310.3 965.5 1314.7 971.6 1319 975.2 C1323.2 978.8 1331.4 983.5 1333.9 985.2" stroke-width="4.5" fill="none"/>
<path d="M1333.9 985.2 L1423.3 1036.6 L1505.8 1080.8" stroke-width="4.5" fill="none"/>
<path d="M1456.1 958.6 C1453.5 960.3 1445.5 964.8 1440.7 969 C1435.8 973.3 1430.7 978.1 1427 983.9 C1423.3 989.7 1420.1 997.6 1418.3 1003.8 C1416.5 1010 1416.3 1016.1 1416.3 1021.2 C1416.3 1026.2 1418 1032 1418.3 1034.1" stroke-width="2.6" fill="none"/>
<path d="M1468.5 969 C1465.9 970.5 1457.9 974 1453.1 977.7 C1448.3 981.5 1443.2 986.2 1439.4 991.4 C1435.7 996.6 1432.7 1003 1430.7 1008.8 C1428.8 1014.6 1427.8 1021 1427.8 1026.2 C1427.7 1031.3 1429.8 1037.3 1430.2 1039.6" stroke-width="4.5" fill="none"/>
<path d="M1461.8 959.6 C1462.8 960.3 1466.8 962.5 1468 964.1 C1469.2 965.6 1469 968.2 1469.2 969" stroke-width="4.5" fill="none"/>
<path d="M1542.5 1005.5 C1544.6 1005.3 1550.8 1003.9 1554.9 1003.8 C1559.1 1003.7 1565.3 1004.8 1567.4 1005" stroke-width="4.5" fill="none"/>
<path d="M1567.4 1005 L1607.1 1028.6" stroke-width="4.5" fill="none"/>
<path d="M1607.1 1028.6 C1609.2 1030.9 1616 1037.5 1619.5 1042.3 C1623 1047.1 1626.8 1052.4 1628.2 1057.2 C1629.7 1062 1628.2 1068.6 1628.2 1070.9" stroke-width="4.5" fill="none"/>
<path d="M1628.2 1070.9 L1617.5 1100.7" stroke-width="4.5" fill="none"/>
<path d="M1617.5 1100.7 C1614.5 1103 1605.9 1110.1 1599.6 1114.3 C1593.3 1118.6 1584.9 1123.8 1579.8 1126 C1574.6 1128.2 1570.5 1127.3 1568.6 1127.5" stroke-width="4.5" fill="none"/>
<path d="M1568.6 1127.5 L1552.4 1118.1" stroke-width="4.5" fill="none"/>
<path d="M1542.5 1005.5 C1539.6 1008.6 1530.1 1017.8 1525.1 1023.7 C1520.2 1029.6 1515.8 1034.4 1512.7 1041.1 C1509.6 1047.7 1507.7 1056.8 1506.5 1063.4 C1505.3 1070 1504.7 1076.5 1505.8 1080.8 C1506.8 1085.2 1504.9 1083.3 1512.7 1089.5 C1520.5 1095.7 1545.8 1113.3 1552.4 1118.1" stroke-width="4.5" fill="none"/>
<path d="M1607.1 1029.1 L1599.6 1034.1 L1562.9 1049.8 L1551.5 1094.5 L1568.6 1127.5" stroke-width="4.2" fill="none"/>
<path d="M1524.6 1031.1 L1562.9 1049.8" stroke-width="4" fill="none"/>
<path d="M1507.7 1077.1 L1551.5 1094.5" stroke-width="4" fill="none"/>
<path d="M1542.5 1006.3 L1524.6 1031.1" stroke-width="3.6" fill="none"/>
<path d="M1599.6 1040.6 L1617.5 1060.4 L1607.6 1093.2 L1577.8 1111.1 L1566.4 1090.7 L1572.3 1064.7 L1599.6 1040.6Z" stroke-width="4.5" fill="none"/>
<path d="M1594.7 1048 L1612.6 1058.9" stroke-width="3.4" fill="none"/>
<path d="M1598.4 1043.5 L1594.7 1048" stroke-width="2.4" fill="none"/>
<path d="M1569.8 1082.8 L1597.7 1095.7 L1607.6 1093.2" stroke-width="3.6" fill="none"/>
<path d="M1515 656.9 C1517.6 657.1 1527.1 656.4 1530.4 657.8 C1533.7 659.2 1534.1 662 1534.6 665.3 C1535.1 668.7 1534.6 674.6 1533.2 677.9 C1531.8 681.2 1527.4 683.7 1526.2 684.9" stroke-width="4.5" fill="none"/>
<path d="M1515 656.9 L1470.3 680.7" stroke-width="4.5" fill="none"/>
<path d="M1470.3 680.7 C1467.5 682.8 1457.8 688.6 1453.5 693.3 C1449.3 697.9 1445.8 703.5 1444.6 708.7 C1443.4 713.8 1444.1 719.4 1446.6 724 C1449 728.7 1457 734.5 1459.1 736.6" stroke-width="4.5" fill="none"/>
<path d="M1459.1 736.6 L1671.5 852.6" stroke-width="4.5" fill="none"/>
<path d="M1671.5 852.6 C1672.9 852.9 1677 855.4 1679.9 854.3 C1682.8 853.1 1686.9 848.7 1688.9 845.6 C1690.8 842.5 1692.3 839 1691.7 835.8 C1691 832.7 1687.4 828.5 1685 826.6 C1682.5 824.7 1678.4 825 1677.1 824.6" stroke-width="4.5" fill="none"/>
<path d="M1526.2 684.9 L1480.1 708.7 L1677.1 824.6" stroke-width="4.5" fill="none"/>
<path d="M1522 663.1 L1475.9 687.1" stroke-width="2.4" fill="none"/>
<path d="M1475.9 687.1 C1473.9 688.9 1466.8 693.7 1464.2 697.5 C1461.5 701.3 1459.4 706.5 1460 710.1 C1460.5 713.6 1466.3 717.5 1467.5 719" stroke-width="2.4" fill="none"/>
<path d="M1467.5 719 L1672.1 834.4" stroke-width="2.4" fill="none"/>
<path d="M1531.2 672.3 L1473.1 703.1" stroke-width="2.4" fill="none"/>
<path d="M1453.5 728.2 L1669.6 845.6" stroke-width="2.4" fill="none"/>
<path d="M1677.1 825.2 C1676.3 826.7 1673.4 831 1672.1 834.4 C1670.8 837.8 1669.5 842.6 1669.6 845.6 C1669.6 848.6 1671.9 851.4 1672.4 852.6" stroke-width="2.6" fill="none"/>
<path d="M1695.3 549.3 C1697.9 549.5 1707.5 548.8 1710.7 550.2 C1713.8 551.6 1713.7 554.6 1714 557.7 C1714.3 560.9 1714.1 566 1712.6 568.9 C1711.1 571.8 1706.3 574 1705.1 575.1" stroke-width="4.5" fill="none"/>
<path d="M1695.3 549.3 L1652 572.5" stroke-width="4.5" fill="none"/>
<path d="M1652 572.5 C1649.4 574.6 1640.2 580.3 1636.6 584.8 C1633 589.4 1630.6 595.1 1630.2 599.7 C1629.7 604.2 1631.6 609.1 1633.8 612.2 C1636 615.4 1642 617.4 1643.6 618.4" stroke-width="4.5" fill="none"/>
<path d="M1643.6 618.4 L1833.6 724.6" stroke-width="4.5" fill="none"/>
<path d="M1833.6 724.6 C1835.1 725 1839.6 727.9 1842.6 726.8 C1845.5 725.7 1849.4 720.8 1851.2 717.9 C1853.1 715 1854.1 712 1853.5 709.5 C1852.9 707 1850 704.4 1847.6 703.1 C1845.2 701.8 1840.6 701.9 1839.2 701.7" stroke-width="4.5" fill="none"/>
<path d="M1705.1 575.1 L1660.4 596 L1839.2 701.7" stroke-width="4.5" fill="none"/>
<path d="M1700.9 554.1 L1656.2 577.3" stroke-width="2.4" fill="none"/>
<path d="M1656.2 577.3 C1654.4 578.9 1648 583.8 1645.8 587.1 C1643.6 590.3 1642 594 1643 596.9 C1644.1 599.7 1650.5 603.1 1652 604.4" stroke-width="2.4" fill="none"/>
<path d="M1652 604.4 L1835.9 712.8" stroke-width="2.4" fill="none"/>
<path d="M1709.8 562.5 L1656.2 589.3" stroke-width="2.4" fill="none"/>
<path d="M1636.6 609.4 L1833.1 719" stroke-width="2.4" fill="none"/>
<path d="M1839.2 702.2 C1838.7 704 1836.9 710.1 1835.9 712.8 C1834.9 715.6 1833.1 716.9 1833.1 719 C1833.1 721.1 1835.4 724.4 1835.9 725.4" stroke-width="2.6" fill="none"/>
<path d="M2325.3 269.2 C2324.4 269.2 2323.1 270.1 2320.2 269.5 C2317.4 268.9 2311.8 267 2308 265.8 C2304.2 264.5 2299.9 262.9 2297.4 261.9 C2294.9 260.8 2294 260.5 2292.9 259.4 C2291.8 258.4 2291.3 257.2 2290.9 255.6 C2290.5 254 2290.3 251.7 2290.6 249.9 C2290.8 248 2291.2 246.1 2292.1 244.6 C2293 243 2293.8 241.8 2295.8 240.7 C2297.7 239.5 2300.5 238.2 2303.9 237.6 C2307.3 237 2312.1 237.1 2316.2 237.1 C2320.2 237.1 2324.7 237 2328.4 237.6 C2332.1 238.2 2335 238.9 2338.2 240.7 C2341.3 242.4 2344.8 245.3 2347.1 247.8 C2349.4 250.4 2351.1 253.3 2352 256 C2353 258.7 2353 262.2 2353 264.1 C2353 266.1 2352.7 265.9 2352 267.6 C2351.3 269.2 2350.7 271.2 2348.8 273.9 C2346.9 276.6 2344 281 2340.6 283.7 C2337.2 286.4 2331.8 288.6 2328.4 290.2 C2325 291.9 2323.6 292.7 2320.2 293.5 C2316.8 294.3 2311.4 295 2308 295.3 C2304.6 295.6 2303.2 295.7 2299.8 295.3 C2296.4 294.9 2292.4 294.5 2287.6 292.8 C2282.9 291.2 2274 286.7 2271.3 285.5" stroke-width="4.6" fill="none"/>
<path d="M2300.7 242.3 C2301.9 241.9 2305.3 240.6 2308 240.2 C2310.7 239.7 2313.6 239.5 2317 239.5 C2320.4 239.5 2325.3 239.6 2328.4 240.2 C2331.4 240.7 2334.2 242.3 2335.3 242.8" stroke-width="4" fill="none"/>
<path d="M2299.8 245.5 C2301.9 246.2 2308.3 248.1 2312.1 249.5 C2315.9 250.8 2320 252.2 2322.7 253.5 C2325.4 254.9 2327.1 256 2328.4 257.6 C2329.6 259.2 2330.5 261.1 2330.2 263.3 C2329.9 265.5 2328.1 268.4 2326.8 270.7 C2325.4 273 2323.2 275.5 2321.9 277.2 C2320.5 278.8 2321 280 2318.6 280.6 C2316.2 281.2 2309.2 280.6 2307.3 280.6" stroke-width="4.6" fill="none"/>
<path d="M2307.3 280.6 L2291.7 274.1 L2279.5 269.2" stroke-width="4.6" fill="none"/>
<path d="M2279.5 269 L2266.4 268.1" stroke-width="6.2" fill="none"/>
<path d="M2267.4 269 L2267.4 290.2" stroke-width="4.8" fill="none"/>
<path d="M2267.4 290.2 C2267.8 291 2267.7 293.1 2269.7 295.1 C2271.7 297.2 2275.8 300.4 2279.5 302.5 C2283.1 304.5 2286.9 305.9 2291.7 307.4 C2296.4 308.8 2303.2 310.3 2308 311.4 C2312.8 312.5 2318.2 313.6 2320.2 314" stroke-width="4.6" fill="none"/>
<path d="M2320.2 314 L2511.7 423.5" stroke-width="4.5" fill="none"/>
<path d="M2511.7 423.5 C2514.3 424.8 2522.1 429.3 2527.2 431.2 C2532.4 433.2 2537.6 434.7 2542.8 435.1 C2547.9 435.5 2553.4 434.9 2558.3 433.6 C2563.1 432.3 2568.2 429.7 2571.9 427.4 C2575.5 425 2578.5 423.5 2580 419.6 C2581.5 415.7 2580.8 406.7 2581 404.1" stroke-width="4.5" fill="none"/>
<path d="M2354.5 267.3 C2355.2 268.1 2356.8 270.5 2358.4 272.1 C2360 273.8 2361.3 275 2364.2 277.2 C2367.1 279.3 2373.9 283.6 2375.9 284.9" stroke-width="4.5" fill="none"/>
<path d="M2375.9 284.9 L2568 395.3" stroke-width="4.5" fill="none"/>
<path d="M2568 395.3 C2569.4 396.2 2574.6 399 2576.7 400.6 C2578.9 402.2 2580.3 404.3 2581 405" stroke-width="4.5" fill="none"/>
<path d="M2327.3 295.4 L2521.4 409.9" stroke-width="2.2" fill="none"/>
<path d="M2521.4 409.9 C2523.7 410.7 2530.1 413.8 2535 414.8 C2539.8 415.7 2545.3 416.2 2550.5 415.7 C2555.7 415.2 2561.7 413.8 2566 411.8 C2570.4 409.9 2574.9 405.4 2576.7 404.1" stroke-width="2.2" fill="none"/>
<path d="M2323.5 302.2 L2519.5 418.6" stroke-width="2.2" fill="none"/>
<path d="M2519.5 418.6 C2522.1 419.5 2529.8 422.9 2535 423.9 C2540.2 424.9 2544.7 425.6 2550.5 424.6 C2556.3 423.7 2565.2 420.2 2569.9 418.1 C2574.6 415.9 2577.2 412.9 2578.7 411.8" stroke-width="2.2" fill="none"/>
<ellipse cx="2368.5" cy="301.2" rx="18.5" ry="7.5" transform="rotate(22 2368.5 301.2)" stroke-width="3.6" fill="none"/>
<path d="M2357.4 298.3 C2358.5 298.1 2362.1 296.8 2364.2 297.3 C2366.3 297.8 2368.1 300.3 2370 301.2 C2372 302.1 2374.4 302.9 2375.9 302.8 C2377.3 302.6 2378.3 300.7 2378.8 300.2" stroke-width="2.4" fill="none"/>
<path d="M2366.1 305.1 C2367.4 305.3 2371.6 306.1 2373.9 306.1 C2376.2 306.1 2378.8 305.3 2379.7 305.1" stroke-width="2.4" fill="none"/>
<path d="M1856.5 473.5 C1855.7 473.7 1853.9 474.8 1852.1 474.8 C1850.4 474.9 1849 474.4 1845.9 473.6 C1842.8 472.8 1837 471.1 1833.5 469.9 C1830 468.7 1826.9 467.4 1824.8 466.4 C1822.7 465.4 1822 464.8 1821.1 463.9 C1820.1 462.9 1819.7 461.9 1819.3 460.7 C1818.9 459.6 1818.7 458.2 1818.8 456.8 C1818.9 455.5 1819.4 454 1819.9 452.7 C1820.5 451.3 1820.7 450.2 1822.3 448.8 C1823.9 447.3 1826.9 445.1 1829.8 443.9 C1832.7 442.8 1834.9 442.3 1839.7 441.9 C1844.5 441.6 1853.7 441.5 1858.3 441.9 C1863 442.4 1864.5 443 1867.6 444.5 C1870.7 446.1 1874.4 448.7 1877 451.1 C1879.5 453.6 1881.9 456.3 1883.2 459.2 C1884.5 462.1 1884.7 466.5 1884.7 468.5 C1884.7 470.6 1884 470 1883.2 471.5 C1882.3 472.9 1881 475 1879.4 477.2 C1877.9 479.4 1876.3 482.3 1873.9 484.7 C1871.4 487 1867.3 489.5 1864.5 491.5 C1861.7 493.5 1858.3 495.6 1857.1 496.5" stroke-width="4.7" fill="none"/>
<path d="M1827.3 447.7 C1828.2 447.3 1830.8 446 1832.9 445.5 C1834.9 445 1835.4 444.8 1839.7 444.7 C1843.9 444.5 1854 444.3 1858.3 444.7 C1862.6 445 1863.4 445.8 1865.5 446.6 C1867.5 447.5 1869.9 449.3 1870.7 449.9" stroke-width="4" fill="none"/>
<path d="M1827.3 451.4 C1828.3 452 1830.4 453.9 1833.5 454.8 C1836.6 455.8 1842.2 456.5 1845.9 457.3 C1849.6 458.2 1853.4 458.9 1855.8 459.9 C1858.2 461 1859.4 462.1 1860.3 463.5 C1861.3 465 1861.9 466.6 1861.6 468.5 C1861.2 470.4 1859.7 472.4 1858.3 474.7 C1857 477 1854.9 480.2 1853.4 482.2 C1851.8 484.2 1850.6 485.8 1849 486.6 C1847.4 487.5 1844.5 487.2 1843.5 487.3" stroke-width="4.7" fill="none"/>
<path d="M1843.5 487.3 L1827.3 481.7 L1814.8 476.1 L1807.4 473.6" stroke-width="4.7" fill="none"/>
<path d="M1807.4 473.9 L1797.5 473.5" stroke-width="6.5" fill="none"/>
<path d="M1807.4 472.9 L1796.8 472.4" stroke-width="4" fill="none"/>
<path d="M1798.1 472.9 L1798.1 495.2" stroke-width="5.2" fill="none"/>
<path d="M1800.6 490.4 C1801.9 490.9 1805.2 492 1808.6 493.5 C1812 494.9 1818 497.8 1821.1 499.1 C1824.2 500.3 1824.2 500.6 1827.3 500.9 C1830.4 501.2 1836.1 501.3 1839.7 500.9 C1843.3 500.5 1846.1 499.2 1849 498.4 C1851.9 497.7 1855.7 496.8 1857.1 496.5" stroke-width="4.5" fill="none"/>
<path d="M1797.9 494.5 C1798.2 495.5 1798.4 498.3 1799.8 500.3 C1801.1 502.3 1803.4 504.7 1806.3 506.6 C1809.2 508.6 1813 510.7 1817.3 512.2 C1821.6 513.8 1827.5 515 1832.2 516 C1836.8 516.9 1841 517.1 1845.2 518 C1849.4 518.9 1855.3 521 1857.3 521.6" stroke-width="4.5" fill="none"/>
<path d="M1857.3 521.6 L2088 654.5" stroke-width="4.5" fill="none"/>
<path d="M1885.1 471.1 C1885.7 472.2 1886.9 475.4 1888.8 477.8 C1890.7 480.1 1892.9 482.5 1896.5 485.2 C1900.1 487.9 1908.1 492.4 1910.4 493.8" stroke-width="4.5" fill="none"/>
<path d="M1910.4 493.8 L2119.6 611.9" stroke-width="4.5" fill="none"/>
<path d="M2119.6 611.9 L2148.5 627.5" stroke-width="3.2" fill="none"/>
<path d="M1856.4 499.2 C1856.9 500 1854.8 501.4 1859.2 503.9 C1863.5 506.3 1877.5 512.5 1882.5 514.1 C1887.5 515.7 1887.9 513.7 1889 513.6" stroke-width="4.5" fill="none"/>
<path d="M1854.5 507.1 L2102.9 649.6" stroke-width="2.4" fill="none"/>
<path d="M1882.5 516 L2110.4 645.4" stroke-width="2.4" fill="none"/>
<ellipse cx="1900.7" cy="502.9" rx="15.5" ry="7.2" transform="rotate(28 1900.7 502.9)" stroke-width="3" fill="none"/>
<path d="M1890.9 498.3 C1891.8 498.4 1895.1 498.3 1896.5 499.2 C1897.9 500.1 1897.9 502.6 1899.3 503.9 C1900.7 505.1 1903.1 506.4 1904.8 506.6 C1906.6 506.9 1908.7 505.5 1909.5 505.3" stroke-width="2.6" fill="none"/>
<path d="M1897.9 514.1 L1896.9 520.2" stroke-width="3" fill="none"/>
<path d="M2148.5 627.5 C2150.1 627.3 2154.4 626.8 2157.8 626.3 C2161.2 625.9 2165.1 624.8 2169 624.9 C2172.9 625.1 2176.8 625.9 2181.1 627.3 C2185.5 628.7 2190.7 631.2 2195.1 633.3 C2199.4 635.5 2203.9 638.1 2207.2 640.3 C2210.5 642.6 2212.9 644.8 2214.7 646.8 C2216.4 648.9 2216.7 650.7 2217.6 652.4 C2218.6 654.2 2219.9 655.4 2220.4 657.3 C2221 659.1 2221.1 661.9 2220.8 663.6 C2220.5 665.3 2218.9 666.7 2218.6 667.3" stroke-width="4.5" fill="none"/>
<path d="M2218.6 667.3 L2210.9 667.5 L2167.1 655.4" stroke-width="4.5" fill="none"/>
<path d="M2167.1 655.4 C2165.7 656 2161.1 658 2158.8 659.1 C2156.4 660.2 2155 660.8 2153.2 661.9 C2151.3 663 2148.5 665 2147.6 665.7" stroke-width="4.5" fill="none"/>
<path d="M2214.8 650.6 C2213.3 650.4 2211 650.9 2205.3 649.6 C2199.7 648.3 2187.5 643.9 2181.1 642.7 C2174.8 641.6 2171.8 642.5 2167.1 642.6 C2162.5 642.7 2156.4 642.6 2153.2 643.3 C2149.9 644 2149.9 645.1 2147.6 646.8 C2145.3 648.5 2140.9 651.5 2139.2 653.5 C2137.5 655.6 2137.5 657.2 2137.1 658.9 C2136.8 660.7 2136.7 662.5 2137.3 663.8 C2138 665.1 2139.4 666.2 2141.1 666.6 C2142.8 666.9 2146.5 666 2147.6 665.9" stroke-width="4.5" fill="none"/>
<path d="M2165.7 643.1 L2165.7 654.8" stroke-width="3.4" fill="none"/>
<path d="M2147.6 665.7 C2148.5 666.1 2147.6 666.3 2153.2 668.4 C2158.8 670.6 2174.9 676.2 2181.1 678.7 C2187.3 681.2 2188.5 681.7 2190.4 683.4 C2192.3 685 2192.5 686.7 2192.5 688.8 C2192.5 690.8 2191.6 693.5 2190.4 695.5 C2189.3 697.5 2188.1 699.6 2185.8 700.9 C2183.5 702.1 2183.5 702.6 2176.5 702.9 C2169.5 703.3 2151.2 703.7 2143.9 702.9 C2136.6 702.1 2136.1 699.8 2132.7 698.3 C2129.3 696.7 2126.2 695.2 2123.4 693.4 C2120.6 691.7 2117.8 690 2115.9 687.8 C2114 685.7 2112.7 683.2 2111.8 680.4 C2110.9 677.6 2110.4 675.9 2110.3 671.1 C2110.2 666.2 2110.9 654.8 2111.1 651.5" stroke-width="4.5" fill="none"/>
<path d="M2115 679.6 C2116.7 680.3 2121.2 682.1 2125.2 683.4 C2129.3 684.6 2135.3 686.1 2139.2 687.1 C2143.1 688.1 2143.1 688.9 2148.5 689.3 C2153.9 689.7 2166.4 690 2171.8 689.3 C2177.2 688.6 2178.8 686.2 2181.1 685.2 C2183.5 684.2 2185.2 683.5 2186 683.2" stroke-width="4.5" fill="none"/>
<path d="M2111.2 650.7 L2125.2 638.6 L2145.7 628.8" stroke-width="4.5" fill="none"/>
<path d="M2110.8 651.5 L2110.8 673.9" stroke-width="6" fill="none"/>
<path d="M2088 654.5 C2090.3 655.7 2098.8 659.8 2101.9 661.9 C2105 664.1 2105.3 664.6 2106.6 667.5 C2107.8 670.5 2108.9 677.6 2109.4 679.6" stroke-width="4.5" fill="none"/>
<path d="M2078.6 622.6 C2078.6 622 2077.5 620.1 2078.2 618.9 C2078.8 617.6 2080.9 615.9 2082.4 615.2 C2083.8 614.4 2085.5 613.9 2087 614.4 C2088.6 614.9 2090.3 616.6 2091.7 618 C2093.1 619.3 2094 621.4 2095.4 622.6 C2096.8 623.9 2098.5 625.2 2100.1 625.4 C2101.6 625.6 2103.6 624.5 2104.7 623.5 C2105.8 622.6 2106.3 620.4 2106.6 619.8" stroke-width="3" fill="none"/>
<path d="M2079.6 622.8 C2080.5 622.5 2083.4 620.3 2085.2 620.7 C2086.9 621.2 2088.1 623.7 2089.8 625.4 C2091.5 627.1 2093.5 629.6 2095.4 631 C2097.3 632.4 2098.8 633.4 2101 633.8 C2103.2 634.2 2106.7 634.4 2108.4 633.6 C2110.2 632.8 2110.6 630.8 2111.2 629.1 C2111.9 627.5 2112 624.5 2112.2 623.5" stroke-width="3" fill="none"/>
<path d="M2091.7 611.6 L2112.2 614.4" stroke-width="3" fill="none"/>
<path d="M2097.3 607.9 L2115.9 611.6" stroke-width="3" fill="none"/>
<path d="M2079 354.6 C2078 354.5 2075.7 354.7 2073.2 354.1 C2070.7 353.4 2068.5 352.4 2063.9 350.9 C2059.2 349.4 2050 346.5 2045.2 344.9 C2040.5 343.3 2037.5 342.3 2035.2 341.2 C2032.8 340 2032.2 339.4 2031.3 338 C2030.4 336.7 2030 334.8 2029.8 333.1 C2029.5 331.4 2029.4 329.7 2029.8 328 C2030.2 326.2 2030.4 324 2032.2 322.4 C2034 320.7 2037.9 318.9 2040.6 317.9 C2043.2 316.8 2042.6 316.5 2048 316 C2053.5 315.6 2067.4 314.8 2073.2 315.1 C2078.9 315.4 2078.6 316.5 2082.5 317.7 C2086.4 318.9 2092.6 320.5 2096.5 322.4 C2100.4 324.2 2103.2 326.4 2105.8 328.9 C2108.5 331.4 2110.8 334.3 2112.3 337.3 C2113.9 340.2 2114.4 343.2 2115.1 346.6 C2115.8 350 2116.3 355.5 2116.6 357.8 C2116.9 360 2116.8 359.7 2116.8 360.1" stroke-width="4" fill="none"/>
<path d="M2116.8 360.1 C2116.1 361 2114.9 362.6 2112.3 365.4 C2109.7 368.3 2105.3 373.9 2101.2 377.4 C2097 380.8 2090.9 383.6 2087.2 385.9 C2083.5 388.3 2080.3 390.4 2079 391.3" stroke-width="3.6" fill="none"/>
<path d="M2079 391.5 L2072.5 391.5" stroke-width="3.6" fill="none"/>
<path d="M2110.7 348.5 C2110.3 349.7 2110.2 352.8 2108.6 355.9 C2107 359 2104.7 363.7 2101.2 367.1 C2097.6 370.5 2091.8 373.9 2087.2 376.4 C2082.5 378.9 2077.4 380.6 2073.2 382 C2069 383.4 2067.4 384.3 2062 384.8 C2056.6 385.3 2047.3 386.1 2040.6 385 C2033.9 383.9 2027.4 381 2021.9 378.5 C2016.5 376 2012.7 373.2 2008 370.1 C2003.2 367 1995.7 361.5 1993.2 359.8" stroke-width="3.6" fill="none"/>
<path d="M2039.6 323.5 C2042.1 324.5 2049 327.5 2054.6 329.8 C2060.1 332.1 2068.2 335.3 2073.2 337.3 C2078.2 339.3 2082.3 340.4 2084.4 341.9 C2086.5 343.5 2086.2 344.7 2085.9 346.6 C2085.6 348.5 2083.9 351.3 2082.5 353.1 C2081.2 355 2080.2 355.9 2077.9 357.8 C2075.5 359.6 2071.6 362.8 2068.5 364.3 C2065.4 365.9 2063.8 366.7 2059.2 367.1 C2054.6 367.5 2043.8 366.8 2040.8 366.7" stroke-width="3.8" fill="none"/>
<path d="M2040.8 366.7 L2017.3 359.6 L2003.3 355.2" stroke-width="3.8" fill="none"/>
<path d="M2003.3 355 L1992.6 353.9" stroke-width="5.5" fill="none"/>
<path d="M1991.8 354.1 L1991.8 374.6" stroke-width="4.2" fill="none"/>
<path d="M1991.8 374.6 C1992.3 375.8 1993 379.2 1994.9 382 C1996.8 384.8 1999.6 388.5 2003.3 391.3 C2007 394.1 2012.6 396.8 2017.3 398.8 C2021.9 400.8 2026.6 402.2 2031.3 403.4 C2035.9 404.7 2039.8 405.6 2045.2 406.2 C2050.7 406.9 2059.2 406.6 2063.9 407.4 C2068.5 408.1 2071.6 410.3 2073.2 410.9" stroke-width="4" fill="none"/>
<path d="M2073.2 410.9 L2319.6 552 L2323 556.1" stroke-width="3.6" fill="none"/>
<path d="M2116.1 360.1 C2117.4 361.2 2121.1 364.6 2124.1 366.6 C2127 368.6 2129 369.1 2134 372 C2139 375 2150.6 382.4 2153.9 384.5" stroke-width="3.6" fill="none"/>
<path d="M2153.9 384.5 L2327.7 488.8 L2362.5 507.7" stroke-width="3.6" fill="none"/>
<path d="M2079 391.7 L2320.8 534" stroke-width="3" fill="none"/>
<path d="M2081.6 402.5 L2318.3 538.9" stroke-width="2.4" fill="none"/>
<path d="M2107.9 397.4 C2109.8 396.9 2115.6 394.1 2119.1 394.4 C2122.6 394.7 2125.7 399.1 2129 399.4 C2132.3 399.6 2135.7 396.7 2139 395.6 C2142.3 394.6 2147.9 394.8 2148.9 393.1 C2149.9 391.5 2147.7 387.6 2145.2 385.7 C2142.7 383.8 2137.1 382.4 2134 382 C2130.9 381.6 2127.8 383 2126.5 383.2" stroke-width="2.6" fill="none"/>
<path d="M2109.2 400.6 C2111.2 401.4 2118.3 404.5 2121.6 405.6 C2124.9 406.6 2127.2 407.8 2129 406.8 C2130.9 405.8 2132.1 400.6 2132.8 399.4" stroke-width="2.6" fill="none"/>
<path d="M2126.5 383.2 L2125.3 398.1" stroke-width="2.4" fill="none"/>
<path d="M2295.4 500 C2296.3 501.4 2297.9 506.6 2300.4 508.6 C2302.9 510.7 2307 512.4 2310.4 512.4 C2313.7 512.4 2318.2 510.1 2320.3 508.6 C2322.4 507.2 2322.4 504.5 2322.8 503.7" stroke-width="2.6" fill="none"/>
<path d="M2300.4 511.1 C2301.7 512.2 2305.2 516.5 2307.9 517.3 C2310.6 518.2 2315.1 516.3 2316.6 516.1" stroke-width="2.6" fill="none"/>
<ellipse cx="2324" cy="495" rx="14" ry="5.5" transform="rotate(35 2324 495)" stroke-width="3" fill="none"/>
<path d="M2310.4 486.3 L2332.7 496.2" stroke-width="2.6" fill="none"/>
<path d="M2324.8 536.7 L2343.5 520.4 L2361.1 509.3" stroke-width="3.8" fill="none"/>
<path d="M2361.1 509.3 C2362.7 509.1 2367.6 508.2 2370.7 507.7 C2373.7 507.2 2374.3 506.5 2379.3 506.3 C2384.4 506.1 2395.3 505.8 2401.1 506.3 C2406.9 506.8 2409.2 507.4 2414.1 509.3 C2419 511.3 2425.9 515.1 2430.4 518 C2435 520.9 2438.6 523.7 2441.3 526.7 C2444.1 529.8 2445.1 533.6 2447 536.5 C2448.8 539.4 2451.1 541.8 2452.2 544.1 C2453.2 546.5 2453.3 548.6 2453.3 550.7 C2453.2 552.7 2452.3 555 2451.7 556.3 C2451.2 557.6 2450.3 558.1 2450 558.5" stroke-width="3.6" fill="none"/>
<path d="M2450 558.5 L2435.9 558.5 L2414.1 550.7 L2403.3 546.5" stroke-width="3.6" fill="none"/>
<path d="M2403.3 546.5 C2401.8 546.2 2397.3 544.4 2394.6 544.3 C2391.8 544.3 2389.7 545.3 2387 546.3 C2384.2 547.4 2380.8 548.8 2378.3 550.7 C2375.7 552.5 2373.2 555.3 2371.7 557.2 C2370.3 559 2368.8 560.4 2369.6 561.7 C2370.3 563 2375 564.5 2376.1 565" stroke-width="3.6" fill="none"/>
<path d="M2376.1 565 L2397.8 572.4 L2410.9 577.8" stroke-width="3.6" fill="none"/>
<path d="M2410.9 577.8 C2411.6 578.9 2414.5 581.6 2415.2 584.3 C2416 587.1 2416 591.6 2415.4 594.1 C2414.9 596.7 2414.2 597.9 2412 599.6 C2409.7 601.2 2406.3 603 2402.2 603.9 C2398 604.8 2392 604.7 2387 604.8 C2381.9 604.9 2377.5 605.8 2371.7 604.6 C2365.9 603.3 2358.2 600 2352.2 597.4 C2346.2 594.7 2340.2 591.4 2335.9 588.7 C2331.5 586 2328.2 583.8 2326.1 581.1 C2324 578.4 2323.8 573.8 2323.4 572.4" stroke-width="3.8" fill="none"/>
<path d="M2323.4 572.4 L2323 537.6" stroke-width="6" fill="none"/>
<path d="M2445.9 539.3 C2444.2 538.9 2441.2 538.1 2435.9 536.5 C2430.6 535 2420.1 531.8 2414.1 530 C2408.2 528.2 2405.3 526.6 2400 525.9 C2394.7 525.2 2387.7 525 2382.6 525.9 C2377.5 526.7 2373.6 528.2 2369.6 531.1 C2365.6 533.9 2361.2 539.2 2358.7 543 C2356.2 546.8 2354.7 551.3 2354.3 553.9 C2354 556.5 2354.5 557.5 2356.7 558.5 C2358.9 559.5 2365.8 559.7 2367.6 560" stroke-width="3.4" fill="none"/>
<path d="M2327.2 566.1 C2329.9 567.1 2337.1 570.1 2343.5 572.4 C2349.8 574.7 2359.4 578.2 2365.2 580 C2371 581.8 2373.7 582.7 2378.3 583.3 C2382.8 583.8 2388 583.8 2392.4 583.3 C2396.8 582.7 2402.5 580.5 2404.6 580" stroke-width="3.4" fill="none"/>
<path d="M2391.3 531.1 L2391.3 534.3" stroke-width="2.4" fill="none"/>
<path d="M2413.7 948 C2411.7 949 2404.2 950.9 2401.9 953.6 C2399.5 956.3 2398.6 961.2 2399.5 964.3 C2400.4 967.3 2405.9 970.6 2407.2 971.9" stroke-width="4.4" fill="none"/>
<path d="M2413.7 948 C2414.8 948.2 2418.3 948.3 2420.5 948.9 C2422.6 949.6 2425.4 951.4 2426.4 951.9" stroke-width="4.4" fill="none"/>
<path d="M2426.4 951.9 L2483.9 986.7 L2781.9 1160.8" stroke-width="4.4" fill="none"/>
<path d="M2781.9 1160.8 C2784.8 1162.4 2794.7 1166.9 2799.6 1170.8 C2804.5 1174.7 2809.6 1181.1 2811.4 1184.1 C2813.2 1187 2812.7 1187.6 2810.2 1188.5 C2807.7 1189.4 2801.8 1190.4 2796.6 1189.4 C2791.4 1188.4 2783.8 1184.9 2778.9 1182.6 C2774 1180.3 2769.1 1176.7 2767.1 1175.5" stroke-width="4.4" fill="none"/>
<path d="M2407.2 971.9 L2439.6 989.6 L2463.2 998.5 L2767.1 1175.5" stroke-width="4.4" fill="none"/>
<ellipse cx="2413.7" cy="954.8" rx="7.4" ry="4.8" transform="rotate(8 2413.7 954.8)" stroke-width="3.8" fill="none"/>
<ellipse cx="2451.4" cy="986.4" rx="13.5" ry="11.5" transform="rotate(20 2451.4 986.4)" stroke-width="5.5" fill="#000"/>
<path d="M2443.5 980.2 L2456.7 984.3" stroke="#fff" stroke-width="1.4"/>
<path d="M2442 985.5 L2460.3 990.8" stroke="#fff" stroke-width="1.4"/>
<path d="M2443.5 991.4 L2455.9 995.2" stroke="#fff" stroke-width="1.4"/>
<path d="M2457.3 981.4 L2461.8 985.5" stroke="#fff" stroke-width="1.4"/>
<ellipse cx="2470.6" cy="974.6" rx="9.5" ry="5.5" transform="rotate(30 2470.6 974.6)" stroke-width="5" fill="#000"/>
<ellipse cx="2791.3" cy="1169.3" rx="9.5" ry="3.6" transform="rotate(28 2791.3 1169.3)" stroke-width="2.4" fill="none"/>
<ellipse cx="2785.4" cy="1182" rx="9.5" ry="3.2" transform="rotate(14 2785.4 1182)" stroke-width="2.4" fill="none"/>
<path d="M2227.8 1041 C2226 1041.9 2219.4 1044.4 2217.2 1046.9 C2215 1049.3 2213.8 1053 2214.5 1055.7 C2215.2 1058.5 2220.2 1062.1 2221.3 1063.4" stroke-width="4.4" fill="none"/>
<path d="M2227.8 1041 C2229.2 1041.2 2233.6 1041.4 2236.1 1042.1 C2238.5 1042.9 2241.5 1045.1 2242.5 1045.7" stroke-width="4.4" fill="none"/>
<path d="M2242.5 1045.7 L2283.3 1070.5 L2560.6 1226.8" stroke-width="4.4" fill="none"/>
<path d="M2221.3 1063.4 L2247.9 1076.4 L2274.4 1089.9 L2563 1252.8" stroke-width="4.4" fill="none"/>
<ellipse cx="2227.8" cy="1048.6" rx="7.4" ry="4.8" transform="rotate(8 2227.8 1048.6)" stroke-width="3.8" fill="none"/>
<ellipse cx="2258.2" cy="1074.9" rx="15" ry="11.5" transform="rotate(20 2258.2 1074.9)" stroke-width="5.5" fill="#000"/>
<path d="M2249.6 1068.4 L2264.1 1072.8" stroke="#fff" stroke-width="1.4"/>
<path d="M2247.9 1074 L2267.9 1079.3" stroke="#fff" stroke-width="1.4"/>
<path d="M2249.6 1079.9 L2263.2 1084" stroke="#fff" stroke-width="1.4"/>
<path d="M2265 1069.9 L2269.4 1074" stroke="#fff" stroke-width="1.4"/>
<ellipse cx="2275" cy="1061.6" rx="10.5" ry="5.5" transform="rotate(30 2275 1061.6)" stroke-width="5" fill="#000"/>
<path d="M2560.6 1226.8 C2565 1228.3 2579.8 1232.2 2587.2 1235.7 C2594.5 1239.1 2599 1243.1 2604.9 1247.5 C2610.8 1251.9 2618 1258 2622.6 1262.2 C2627.1 1266.5 2630.7 1270.1 2632 1272.9 C2633.3 1275.6 2632.3 1277.3 2630.2 1278.8 C2628.2 1280.2 2623.8 1281.7 2619.6 1281.7 C2615.4 1281.7 2611.7 1281.5 2604.9 1278.8 C2598 1276 2585.2 1269.8 2578.3 1265.2 C2571.4 1260.6 2567.5 1255.9 2563.5 1251 C2559.6 1246.2 2555.9 1239.8 2554.7 1236.3 C2553.5 1232.7 2555.5 1231.4 2556.5 1229.8 C2557.5 1228.2 2559.9 1227.3 2560.6 1226.8" stroke-width="4.4" fill="none"/>
<path d="M2561.2 1233.3 C2563.1 1237.2 2567.1 1250.5 2572.4 1256.3 C2577.7 1262.1 2584.7 1265.1 2593.1 1268.1 C2601.4 1271.2 2617.6 1273.6 2622.6 1274.6" stroke-width="2.4" fill="none"/>
<path d="M2619 1280.5 L2628.5 1274" stroke-width="2.4" fill="none"/>
<path d="M2607.6 775.6 C2605.1 776.7 2597.3 778.5 2592.7 782.1 C2588 785.7 2583.1 791.6 2579.7 797 C2576.3 802.4 2573.8 809.4 2572.3 814.4 C2570.8 819.4 2570.2 823.1 2570.8 826.8 C2571.4 830.5 2573.4 834.2 2576 836.7 C2578.7 839.3 2584.9 841.3 2586.7 842.2" stroke-width="4.2" fill="none"/>
<path d="M2607.6 775.6 C2609.1 776 2614 776.6 2617 777.6 C2620 778.6 2624.2 780.9 2625.7 781.6" stroke-width="4.2" fill="none"/>
<path d="M2625.7 781.6 L2763.5 855.6" stroke-width="4.2" fill="none"/>
<path d="M2763.5 855.6 C2765.2 856.4 2771.2 858.5 2773.5 860.6 C2775.8 862.7 2775 865 2777.5 868 C2779.9 871.1 2786.6 877.1 2788.4 879" stroke-width="4.2" fill="none"/>
<path d="M2788.4 879 L2845 910.3" stroke-width="4.2" fill="none"/>
<path d="M2576.3 836.7 L2699 906.8 L2728.8 922.7" stroke-width="4.2" fill="none"/>
<path d="M2728.8 922.7 C2730.4 923.1 2735.7 925.4 2738.7 925.2 C2741.7 924.9 2745.3 921.9 2746.7 921.2" stroke-width="4.2" fill="none"/>
<path d="M2747.7 921.2 L2816.2 955" stroke-width="4.2" fill="none"/>
<path d="M2612.5 778.6 L2753.1 861.1" stroke-width="2.4" fill="none"/>
<path d="M2753.1 861.1 C2753.5 862.2 2755.4 865.8 2755.6 867.8 C2755.8 869.7 2755.4 871.2 2754.6 872.8 C2753.9 874.3 2751.7 876.3 2751.1 877" stroke-width="2.4" fill="none"/>
<path d="M2615.8 785.1 L2751.1 865.3" stroke-width="2.2" fill="none"/>
<path d="M2593.7 792 L2749.1 878" stroke-width="3" fill="none"/>
<path d="M2749.1 878 C2750.7 877.6 2754.1 877 2758.6 875.5 C2763.1 874 2773.1 870.1 2776 869" stroke-width="3" fill="none"/>
<path d="M2577.3 819.4 L2739.2 905.3" stroke-width="3" fill="none"/>
<path d="M2581.7 839.2 L2701.5 908.8" stroke-width="2.2" fill="none"/>
<path d="M2749.1 879 C2748.9 881 2749.3 887 2747.7 891.4 C2746 895.8 2742.3 900.7 2739.2 905.3 C2736.1 909.8 2730.9 916.5 2729.3 918.7" stroke-width="2.4" fill="none"/>
<path d="M2739.2 905.3 C2739.7 907.1 2741 913.4 2742.4 916.2 C2743.8 919.1 2746.8 921.4 2747.7 922.4" stroke-width="3" fill="none"/>
<path d="M2731.8 877 L2732.3 879" stroke-width="2.6" fill="none"/>
<path d="M2728.3 883.9 L2728.8 885.9" stroke-width="2.6" fill="none"/>
<path d="M2842.4 910.9 C2838.8 912.1 2836.6 915.9 2833.8 919.1 C2831 922.4 2827.7 926.9 2825.4 930.3 C2823.1 933.7 2821.2 936.2 2819.8 939.6 C2818.4 943 2817.5 947.7 2817 950.8 C2816.6 953.9 2816.4 955.5 2817.2 958.3 C2818 961.1 2819.7 964.9 2821.7 967.6 C2823.7 970.2 2826 972.3 2829.1 974.1 C2832.2 975.9 2836 977.8 2840.3 978.6 C2844.7 979.3 2851.2 979.5 2855.2 978.6 C2859.3 977.7 2861.7 975.6 2864.5 973.2 C2867.3 970.7 2869.9 967.3 2872 963.9 C2874.1 960.4 2875.9 956.6 2877.1 952.7 C2878.3 948.8 2878.8 944.1 2879 940.6 C2879.1 937 2878.9 934.3 2878 931.2 C2877.2 928.1 2876.1 924.5 2873.9 921.9 C2871.6 919.3 2867.6 917.2 2864.5 915.6 C2861.4 914 2858.9 913.1 2855.2 912.3 C2851.5 911.6 2845.9 909.8 2842.4 910.9Z" stroke-width="4.4" fill="none"/>
<path d="M2873.9 923.8 C2874.4 925.2 2876.4 929.2 2877.1 932.2 C2877.8 935.1 2878.2 938.1 2878 941.5 C2877.9 944.9 2877.2 949.3 2876.2 952.7 C2875.2 956.1 2872.7 960.4 2872 962" stroke-width="4" fill="none"/>
<path d="M2862.9 921 C2861.6 921.6 2857.7 923.2 2855.2 924.7 C2852.7 926.3 2850.1 928.3 2847.8 930.3 C2845.5 932.4 2842.5 935.9 2841.4 937" stroke-width="4.2" fill="none"/>
<path d="M2873.1 934.2 C2870.7 934.3 2862.5 934 2858.9 934.8 C2855.3 935.6 2853.7 937.1 2851.5 938.9 C2849.3 940.7 2847.7 943 2845.9 945.4 C2844.1 947.9 2842.1 951.9 2840.8 953.6 C2839.5 955.3 2838.4 955.3 2838 955.7" stroke-width="4.2" fill="none"/>
<path d="M2872 940.7 C2869.5 940.9 2860.7 940.6 2857.1 941.7 C2853.5 942.8 2852.1 945.1 2850.6 947.3 C2849 949.4 2848.4 953.3 2848 954.5" stroke-width="3.4" fill="none"/>
<path d="M2855.2 944.5 L2866.6 944.5 L2861 954.5 L2849.8 955.7Z" stroke-width="4.2" fill="none"/>
<path d="M2833.8 958.4 L2833.8 969.6 L2836.8 972.4" stroke-width="2.6" fill="none"/>
<path d="M2837.1 962 C2838.5 962 2843.6 961.6 2845.9 962 C2848.2 962.3 2848.5 964 2851 964 C2853.5 964 2859.2 962.3 2860.8 962" stroke-width="4" fill="none"/>
<path d="M2838.4 955.7 C2839.4 956.2 2841.9 958.4 2844 959.2 C2846.2 960 2848.7 960.3 2851.5 960.3 C2854.3 960.3 2859.3 959.4 2860.8 959.2" stroke-width="4" fill="none"/>
<path d="M2838 942.6 L2838.9 944.3" stroke-width="4" fill="none"/>
</g>
</svg>
</body></html>
